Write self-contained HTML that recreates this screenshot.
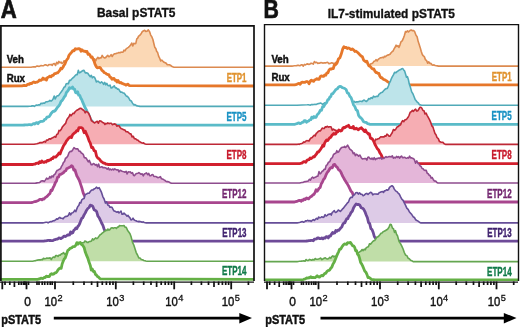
<!DOCTYPE html>
<html><head><meta charset="utf-8"><style>
html,body{margin:0;padding:0;background:#fff;}
svg{display:block;will-change:transform;}
text{font-family:"Liberation Sans",sans-serif;}
.lab{font-weight:bold;font-size:12.4px;stroke-width:0.4px;}
.tk{font-size:12px;fill:#111;stroke:#111;stroke-width:0.4px;}
.sup{font-size:9.2px;fill:#111;stroke:#111;stroke-width:0.3px;}
.ax{font-size:13.6px;font-weight:bold;fill:#111;stroke:#111;stroke-width:0.5px;}
.ttl{font-size:13.6px;font-weight:bold;fill:#111;stroke:#111;stroke-width:0.35px;}
.big{font-size:26px;font-weight:bold;fill:#111;stroke:#111;stroke-width:0.7px;}
.vr{font-size:11px;font-weight:bold;fill:#111;stroke:#111;stroke-width:0.45px;}
</style></head><body>
<svg width="520" height="327" viewBox="0 0 520 327">
<rect width="520" height="327" fill="#fff"/>
<svg x="0" y="0" width="254" height="281" overflow="hidden"><path d="M0.0,67.3 L0.0,67.3 L30.0,67.3 L31.1,67.3 L32.2,67.3 L33.3,67.3 L34.4,67.3 L35.6,67.3 L36.7,67.3 L37.8,67.3 L38.9,67.3 L40.0,67.3 L41.1,67.3 L42.2,67.3 L43.3,67.3 L44.4,67.3 L45.6,67.3 L46.7,67.3 L47.8,67.3 L48.9,67.3 L50.0,67.3 L51.1,67.3 L52.2,67.3 L53.3,67.3 L54.4,67.3 L55.6,67.3 L56.7,67.3 L57.8,67.3 L58.9,67.3 L60.0,67.3 L61.0,67.3 L62.0,67.3 L63.0,67.3 L64.0,67.3 L65.0,67.3 L66.1,67.3 L67.1,67.3 L68.2,67.3 L69.3,67.3 L70.4,67.3 L71.4,67.3 L72.5,67.3 L73.6,67.3 L74.6,67.3 L75.7,67.3 L76.8,67.3 L77.9,67.3 L78.9,67.3 L80.0,67.3 L81.1,67.3 L82.3,67.3 L83.4,67.3 L84.5,67.3 L85.7,67.3 L86.8,67.3 L88.0,67.3 L89.1,67.3 L90.2,67.3 L91.4,67.3 L92.5,59.1 L93.6,60.0 L94.6,58.9 L95.7,60.8 L96.8,58.7 L97.9,57.3 L98.9,58.7 L100.0,57.8 L101.1,58.0 L102.2,55.4 L103.3,57.1 L104.4,57.9 L105.6,57.6 L106.7,56.4 L107.8,55.4 L108.9,56.7 L110.0,56.1 L111.1,54.7 L112.2,56.5 L113.3,54.7 L114.4,53.8 L115.6,53.8 L116.7,53.2 L117.8,53.0 L118.9,52.5 L120.0,52.8 L121.0,52.1 L122.0,52.2 L123.0,52.1 L124.0,50.2 L125.0,50.8 L126.1,48.8 L127.2,48.1 L128.4,47.4 L129.5,46.3 L130.6,45.1 L131.7,43.0 L132.8,45.9 L133.8,43.3 L134.9,43.7 L135.8,43.4 L136.8,38.8 L137.7,38.1 L138.6,36.1 L139.6,35.5 L140.5,34.6 L141.4,33.2 L142.4,31.5 L143.3,31.0 L144.7,30.3 L145.8,31.4 L147.0,31.2 L148.3,29.9 L149.6,31.7 L150.7,35.1 L151.8,36.7 L152.9,39.5 L153.9,43.7 L154.8,47.4 L155.8,48.5 L156.7,51.5 L157.6,52.4 L158.6,56.1 L159.5,57.8 L160.7,60.9 L161.8,60.1 L163.0,61.3 L164.1,62.3 L165.2,62.7 L166.2,63.3 L167.3,64.8 L168.4,64.7 L169.4,64.8 L170.4,65.2 L171.5,66.2 L172.8,66.8 L174.0,67.3 L254.0,67.3 L254.0,67.3 Z" fill="#FBD8B5"/>
<path d="M0.0,67.3 L30.0,67.3 L31.1,67.2 L32.2,67.0 L33.3,66.9 L34.4,66.8 L35.6,66.9 L36.7,66.0 L37.8,66.1 L38.9,66.4 L40.0,66.1 L41.1,65.5 L42.2,65.8 L43.3,65.8 L44.4,65.1 L45.6,64.7 L46.7,65.3 L47.8,65.7 L48.9,64.5 L50.0,64.8 L51.1,64.4 L52.2,65.5 L53.3,63.7 L54.4,63.5 L55.6,65.5 L56.7,62.3 L57.8,63.9 L58.9,61.4 L60.0,62.8 L61.0,62.0 L62.0,63.5 L63.0,63.0 L64.0,60.8 L65.0,61.3 L66.1,60.8 L67.1,61.2 L68.2,60.0 L69.3,61.5 L70.4,62.9 L71.4,59.7 L72.5,59.1 L73.6,61.0 L74.6,60.6 L75.7,62.2 L76.8,60.4 L77.9,60.4 L78.9,60.2 L80.0,60.3 L81.1,59.3 L82.3,60.7 L83.4,58.8 L84.5,60.9 L85.7,59.8 L86.8,60.1 L88.0,59.0 L89.1,58.6 L90.2,60.9 L91.4,59.6 L92.5,59.1 L93.6,60.0 L94.6,58.9 L95.7,60.8 L96.8,58.7 L97.9,57.3 L98.9,58.7 L100.0,57.8 L101.1,58.0 L102.2,55.4 L103.3,57.1 L104.4,57.9 L105.6,57.6 L106.7,56.4 L107.8,55.4 L108.9,56.7 L110.0,56.1 L111.1,54.7 L112.2,56.5 L113.3,54.7 L114.4,53.8 L115.6,53.8 L116.7,53.2 L117.8,53.0 L118.9,52.5 L120.0,52.8 L121.0,52.1 L122.0,52.2 L123.0,52.1 L124.0,50.2 L125.0,50.8 L126.1,48.8 L127.2,48.1 L128.4,47.4 L129.5,46.3 L130.6,45.1 L131.7,43.0 L132.8,45.9 L133.8,43.3 L134.9,43.7 L135.8,43.4 L136.8,38.8 L137.7,38.1 L138.6,36.1 L139.6,35.5 L140.5,34.6 L141.4,33.2 L142.4,31.5 L143.3,31.0 L144.7,30.3 L145.8,31.4 L147.0,31.2 L148.3,29.9 L149.6,31.7 L150.7,35.1 L151.8,36.7 L152.9,39.5 L153.9,43.7 L154.8,47.4 L155.8,48.5 L156.7,51.5 L157.6,52.4 L158.6,56.1 L159.5,57.8 L160.7,60.9 L161.8,60.1 L163.0,61.3 L164.1,62.3 L165.2,62.7 L166.2,63.3 L167.3,64.8 L168.4,64.7 L169.4,64.8 L170.4,65.2 L171.5,66.2 L172.8,66.8 L174.0,67.3 L254.0,67.3" fill="none" stroke="#DC8A50" stroke-width="1.6" stroke-linejoin="round"/>
<path d="M0.0,86.0 L0.0,86.0 L22.0,85.8 L23.0,85.6 L24.1,85.4 L25.1,85.7 L26.1,85.6 L27.1,84.8 L28.2,84.2 L29.2,84.4 L30.3,83.4 L31.5,83.6 L32.6,82.6 L33.8,81.8 L35.0,82.6 L36.1,82.2 L37.2,82.1 L38.4,81.3 L39.5,80.0 L40.7,80.4 L41.8,79.8 L43.0,78.1 L44.1,79.4 L45.2,78.7 L46.4,80.1 L47.5,77.5 L48.6,77.1 L49.8,76.2 L51.0,76.9 L52.1,75.4 L53.2,75.4 L54.4,73.7 L55.6,73.7 L56.7,72.9 L57.7,72.9 L58.7,71.7 L59.8,70.3 L60.8,68.3 L61.8,68.8 L62.8,67.5 L63.8,65.5 L64.9,64.1 L65.9,61.4 L66.9,59.6 L68.0,58.3 L69.0,55.3 L70.3,53.7 L71.5,52.4 L72.8,50.7 L74.1,50.8 L75.3,48.7 L76.6,49.2 L77.7,48.8 L78.9,48.6 L80.0,49.0 L81.0,51.2 L82.0,49.8 L83.0,50.9 L84.0,51.3 L85.0,51.2 L86.0,51.8 L87.0,51.4 L88.0,54.4 L89.0,54.0 L90.0,55.2 L91.1,57.3 L92.2,57.0 L93.3,59.6 L94.2,61.5 L95.0,64.2 L96.2,66.5 L97.3,67.8 L98.5,67.7 L99.7,67.4 L100.8,68.3 L101.9,70.3 L103.1,71.2 L104.2,72.7 L105.4,73.0 L106.5,74.0 L107.7,74.6 L108.8,74.7 L109.9,77.0 L111.0,77.5 L112.0,79.2 L113.0,78.5 L114.0,78.3 L115.0,80.3 L116.0,80.1 L117.0,82.0 L118.0,80.4 L119.0,82.2 L120.0,82.8 L121.0,82.5 L122.0,83.4 L123.0,83.7 L124.0,84.2 L125.0,84.5 L126.0,85.2 L127.0,84.5 L128.0,84.2 L129.0,85.5 L130.0,85.7 L254.0,86.0 L254.0,86.0 Z" fill="#fff"/>
<path d="M0.0,86.0 L22.0,85.8 L23.0,85.6 L24.1,85.4 L25.1,85.7 L26.1,85.6 L27.1,84.8 L28.2,84.2 L29.2,84.4 L30.3,83.4 L31.5,83.6 L32.6,82.6 L33.8,81.8 L35.0,82.6 L36.1,82.2 L37.2,82.1 L38.4,81.3 L39.5,80.0 L40.7,80.4 L41.8,79.8 L43.0,78.1 L44.1,79.4 L45.2,78.7 L46.4,80.1 L47.5,77.5 L48.6,77.1 L49.8,76.2 L51.0,76.9 L52.1,75.4 L53.2,75.4 L54.4,73.7 L55.6,73.7 L56.7,72.9 L57.7,72.9 L58.7,71.7 L59.8,70.3 L60.8,68.3 L61.8,68.8 L62.8,67.5 L63.8,65.5 L64.9,64.1 L65.9,61.4 L66.9,59.6 L68.0,58.3 L69.0,55.3 L70.3,53.7 L71.5,52.4 L72.8,50.7 L74.1,50.8 L75.3,48.7 L76.6,49.2 L77.7,48.8 L78.9,48.6 L80.0,49.0 L81.0,51.2 L82.0,49.8 L83.0,50.9 L84.0,51.3 L85.0,51.2 L86.0,51.8 L87.0,51.4 L88.0,54.4 L89.0,54.0 L90.0,55.2 L91.1,57.3 L92.2,57.0 L93.3,59.6 L94.2,61.5 L95.0,64.2 L96.2,66.5 L97.3,67.8 L98.5,67.7 L99.7,67.4 L100.8,68.3 L101.9,70.3 L103.1,71.2 L104.2,72.7 L105.4,73.0 L106.5,74.0 L107.7,74.6 L108.8,74.7 L109.9,77.0 L111.0,77.5 L112.0,79.2 L113.0,78.5 L114.0,78.3 L115.0,80.3 L116.0,80.1 L117.0,82.0 L118.0,80.4 L119.0,82.2 L120.0,82.8 L121.0,82.5 L122.0,83.4 L123.0,83.7 L124.0,84.2 L125.0,84.5 L126.0,85.2 L127.0,84.5 L128.0,84.2 L129.0,85.5 L130.0,85.7 L254.0,86.0" fill="none" stroke="#E6772A" stroke-width="2.8" stroke-linejoin="round"/>
<path d="M0.0,106.4 L0.0,106.4 L28.0,106.4 L29.0,106.3 L30.1,106.2 L31.1,106.1 L32.2,105.9 L33.2,105.8 L34.3,106.4 L35.3,105.6 L36.4,105.0 L37.6,105.2 L38.8,104.8 L39.9,104.9 L41.0,103.3 L42.2,103.6 L43.4,103.1 L44.5,103.3 L45.6,102.1 L46.7,101.8 L47.8,101.6 L48.8,101.3 L49.9,100.4 L51.0,101.1 L52.1,100.3 L53.1,99.1 L54.2,96.0 L55.2,99.0 L56.2,96.9 L57.3,95.8 L58.3,95.7 L59.4,94.4 L60.5,92.9 L61.7,91.2 L62.8,89.6 L64.0,87.3 L65.1,86.7 L66.2,83.7 L67.4,83.5 L68.4,83.7 L69.5,80.3 L70.5,80.4 L71.7,79.0 L72.9,77.9 L74.1,76.8 L75.3,75.4 L76.3,74.6 L77.3,74.6 L78.3,70.4 L79.3,72.8 L80.3,72.4 L81.5,71.5 L82.8,70.6 L84.0,70.4 L85.3,72.9 L86.6,72.9 L87.8,73.2 L89.1,75.2 L90.3,76.7 L91.3,75.3 L92.3,77.8 L93.4,76.7 L94.4,77.2 L95.4,79.2 L96.4,81.9 L97.4,81.2 L98.4,81.4 L99.4,82.3 L100.4,83.0 L101.5,81.9 L102.5,82.6 L103.6,84.3 L104.7,82.4 L105.8,84.8 L106.8,83.4 L107.9,85.4 L109.0,85.8 L110.0,85.0 L111.1,88.0 L112.2,87.7 L113.3,86.7 L114.3,85.8 L115.4,88.0 L116.5,87.9 L117.6,89.3 L118.7,89.1 L119.7,91.0 L120.8,92.3 L121.9,92.1 L123.0,93.0 L124.0,93.1 L125.0,94.3 L126.3,96.1 L127.5,96.4 L128.8,98.0 L130.0,100.3 L131.3,101.0 L132.5,103.1 L133.8,104.9 L135.0,104.6 L136.3,105.6 L137.5,105.9 L138.8,106.1 L140.0,106.4 L254.0,106.4 L254.0,106.4 Z" fill="#BDE4EA"/>
<path d="M0.0,106.4 L28.0,106.4 L29.0,106.3 L30.1,106.2 L31.1,106.1 L32.2,105.9 L33.2,105.8 L34.3,106.4 L35.3,105.6 L36.4,105.0 L37.6,105.2 L38.8,104.8 L39.9,104.9 L41.0,103.3 L42.2,103.6 L43.4,103.1 L44.5,103.3 L45.6,102.1 L46.7,101.8 L47.8,101.6 L48.8,101.3 L49.9,100.4 L51.0,101.1 L52.1,100.3 L53.1,99.1 L54.2,96.0 L55.2,99.0 L56.2,96.9 L57.3,95.8 L58.3,95.7 L59.4,94.4 L60.5,92.9 L61.7,91.2 L62.8,89.6 L64.0,87.3 L65.1,86.7 L66.2,83.7 L67.4,83.5 L68.4,83.7 L69.5,80.3 L70.5,80.4 L71.7,79.0 L72.9,77.9 L74.1,76.8 L75.3,75.4 L76.3,74.6 L77.3,74.6 L78.3,70.4 L79.3,72.8 L80.3,72.4 L81.5,71.5 L82.8,70.6 L84.0,70.4 L85.3,72.9 L86.6,72.9 L87.8,73.2 L89.1,75.2 L90.3,76.7 L91.3,75.3 L92.3,77.8 L93.4,76.7 L94.4,77.2 L95.4,79.2 L96.4,81.9 L97.4,81.2 L98.4,81.4 L99.4,82.3 L100.4,83.0 L101.5,81.9 L102.5,82.6 L103.6,84.3 L104.7,82.4 L105.8,84.8 L106.8,83.4 L107.9,85.4 L109.0,85.8 L110.0,85.0 L111.1,88.0 L112.2,87.7 L113.3,86.7 L114.3,85.8 L115.4,88.0 L116.5,87.9 L117.6,89.3 L118.7,89.1 L119.7,91.0 L120.8,92.3 L121.9,92.1 L123.0,93.0 L124.0,93.1 L125.0,94.3 L126.3,96.1 L127.5,96.4 L128.8,98.0 L130.0,100.3 L131.3,101.0 L132.5,103.1 L133.8,104.9 L135.0,104.6 L136.3,105.6 L137.5,105.9 L138.8,106.1 L140.0,106.4 L254.0,106.4" fill="none" stroke="#50AAB8" stroke-width="1.6" stroke-linejoin="round"/>
<path d="M0.0,125.2 L0.0,125.2 L22.0,125.2 L23.1,125.1 L24.3,125.0 L25.4,124.9 L26.5,124.8 L27.7,124.8 L28.8,124.7 L29.9,124.6 L31.1,124.9 L32.2,124.4 L33.4,123.6 L34.5,124.1 L35.6,123.1 L36.8,122.7 L38.0,123.7 L39.1,122.2 L40.2,121.7 L41.4,121.3 L42.5,121.3 L43.6,121.0 L44.7,119.3 L45.8,119.2 L46.9,117.2 L48.0,117.0 L49.1,116.7 L50.1,115.3 L51.1,113.5 L52.2,112.3 L53.2,111.2 L54.2,111.4 L55.2,110.6 L56.4,108.9 L57.5,107.3 L58.6,106.1 L59.8,104.5 L61.0,101.4 L62.1,100.6 L63.2,98.9 L64.4,96.8 L65.4,95.7 L66.4,92.5 L67.4,91.5 L68.4,90.1 L69.5,87.7 L70.5,88.4 L71.5,88.2 L72.6,87.0 L73.6,89.2 L74.6,89.2 L75.6,92.7 L76.6,93.0 L77.6,91.8 L78.7,95.2 L79.7,95.3 L80.7,98.0 L81.8,99.8 L82.8,102.4 L84.1,105.4 L85.3,108.1 L86.6,110.2 L87.5,113.0 L88.5,113.9 L89.5,116.5 L90.5,119.5 L91.8,120.7 L93.0,122.9 L94.0,123.0 L95.0,123.3 L96.0,124.2 L97.0,124.7 L102.0,125.2 L254.0,125.2 L254.0,125.2 Z" fill="#fff"/>
<path d="M0.0,125.2 L22.0,125.2 L23.1,125.1 L24.3,125.0 L25.4,124.9 L26.5,124.8 L27.7,124.8 L28.8,124.7 L29.9,124.6 L31.1,124.9 L32.2,124.4 L33.4,123.6 L34.5,124.1 L35.6,123.1 L36.8,122.7 L38.0,123.7 L39.1,122.2 L40.2,121.7 L41.4,121.3 L42.5,121.3 L43.6,121.0 L44.7,119.3 L45.8,119.2 L46.9,117.2 L48.0,117.0 L49.1,116.7 L50.1,115.3 L51.1,113.5 L52.2,112.3 L53.2,111.2 L54.2,111.4 L55.2,110.6 L56.4,108.9 L57.5,107.3 L58.6,106.1 L59.8,104.5 L61.0,101.4 L62.1,100.6 L63.2,98.9 L64.4,96.8 L65.4,95.7 L66.4,92.5 L67.4,91.5 L68.4,90.1 L69.5,87.7 L70.5,88.4 L71.5,88.2 L72.6,87.0 L73.6,89.2 L74.6,89.2 L75.6,92.7 L76.6,93.0 L77.6,91.8 L78.7,95.2 L79.7,95.3 L80.7,98.0 L81.8,99.8 L82.8,102.4 L84.1,105.4 L85.3,108.1 L86.6,110.2 L87.5,113.0 L88.5,113.9 L89.5,116.5 L90.5,119.5 L91.8,120.7 L93.0,122.9 L94.0,123.0 L95.0,123.3 L96.0,124.2 L97.0,124.7 L102.0,125.2 L254.0,125.2" fill="none" stroke="#5ABBC8" stroke-width="2.8" stroke-linejoin="round"/>
<path d="M0.0,144.2 L0.0,144.2 L34.0,144.2 L36.8,143.7 L37.9,143.4 L39.0,143.2 L40.1,142.5 L41.2,142.6 L42.3,142.6 L43.4,142.0 L44.5,141.4 L45.5,142.1 L46.5,140.0 L47.5,140.3 L48.6,139.3 L49.6,138.8 L50.6,139.1 L51.6,138.2 L52.6,137.8 L53.7,137.2 L54.7,136.5 L55.7,137.2 L56.7,134.5 L57.9,133.9 L59.0,130.4 L60.1,130.7 L61.3,129.2 L62.3,127.1 L63.4,125.7 L64.4,124.6 L65.6,123.4 L66.7,120.0 L67.8,118.2 L69.0,116.8 L70.0,114.4 L71.0,115.8 L72.0,114.6 L73.0,113.2 L74.0,113.6 L75.3,111.5 L76.5,110.5 L77.8,109.8 L79.0,109.0 L80.3,108.2 L81.5,108.6 L82.8,109.8 L84.0,110.5 L85.2,112.9 L86.3,111.3 L87.5,112.1 L88.7,113.6 L90.2,116.8 L91.4,120.8 L92.3,121.2 L93.3,122.1 L94.7,123.0 L96.0,121.9 L97.2,121.3 L98.4,123.2 L99.5,120.7 L100.7,121.0 L101.9,121.9 L102.9,122.7 L103.9,122.9 L104.9,124.5 L105.9,123.4 L106.8,123.8 L107.8,122.9 L109.0,123.7 L110.1,123.3 L111.3,123.2 L112.5,124.7 L113.6,124.1 L114.8,123.9 L115.8,124.3 L116.8,126.2 L117.8,125.8 L119.0,125.8 L120.2,127.5 L121.3,128.8 L122.5,129.0 L123.7,129.8 L124.9,130.1 L126.1,131.7 L127.3,131.7 L128.5,132.5 L129.7,133.8 L130.9,133.9 L132.1,136.9 L133.3,136.3 L134.5,138.8 L135.7,138.8 L136.9,139.9 L138.1,140.2 L139.2,141.6 L140.4,142.1 L141.6,142.7 L142.6,143.1 L143.6,142.9 L144.6,143.8 L145.6,144.1 L148.0,144.2 L254.0,144.2 L254.0,144.2 Z" fill="#F6ADB3"/>
<path d="M0.0,144.2 L34.0,144.2 L36.8,143.7 L37.9,143.4 L39.0,143.2 L40.1,142.5 L41.2,142.6 L42.3,142.6 L43.4,142.0 L44.5,141.4 L45.5,142.1 L46.5,140.0 L47.5,140.3 L48.6,139.3 L49.6,138.8 L50.6,139.1 L51.6,138.2 L52.6,137.8 L53.7,137.2 L54.7,136.5 L55.7,137.2 L56.7,134.5 L57.9,133.9 L59.0,130.4 L60.1,130.7 L61.3,129.2 L62.3,127.1 L63.4,125.7 L64.4,124.6 L65.6,123.4 L66.7,120.0 L67.8,118.2 L69.0,116.8 L70.0,114.4 L71.0,115.8 L72.0,114.6 L73.0,113.2 L74.0,113.6 L75.3,111.5 L76.5,110.5 L77.8,109.8 L79.0,109.0 L80.3,108.2 L81.5,108.6 L82.8,109.8 L84.0,110.5 L85.2,112.9 L86.3,111.3 L87.5,112.1 L88.7,113.6 L90.2,116.8 L91.4,120.8 L92.3,121.2 L93.3,122.1 L94.7,123.0 L96.0,121.9 L97.2,121.3 L98.4,123.2 L99.5,120.7 L100.7,121.0 L101.9,121.9 L102.9,122.7 L103.9,122.9 L104.9,124.5 L105.9,123.4 L106.8,123.8 L107.8,122.9 L109.0,123.7 L110.1,123.3 L111.3,123.2 L112.5,124.7 L113.6,124.1 L114.8,123.9 L115.8,124.3 L116.8,126.2 L117.8,125.8 L119.0,125.8 L120.2,127.5 L121.3,128.8 L122.5,129.0 L123.7,129.8 L124.9,130.1 L126.1,131.7 L127.3,131.7 L128.5,132.5 L129.7,133.8 L130.9,133.9 L132.1,136.9 L133.3,136.3 L134.5,138.8 L135.7,138.8 L136.9,139.9 L138.1,140.2 L139.2,141.6 L140.4,142.1 L141.6,142.7 L142.6,143.1 L143.6,142.9 L144.6,143.8 L145.6,144.1 L148.0,144.2 L254.0,144.2" fill="none" stroke="#BE2836" stroke-width="1.6" stroke-linejoin="round"/>
<path d="M0.0,164.5 L0.0,164.5 L33.0,164.5 L34.1,164.2 L35.2,164.0 L36.3,163.3 L37.4,163.0 L38.5,163.5 L39.6,161.7 L40.7,162.6 L41.8,161.0 L42.9,162.1 L44.0,162.5 L45.1,161.6 L46.2,162.1 L47.3,160.4 L48.4,160.8 L49.5,159.9 L50.6,159.8 L51.6,158.5 L52.6,158.7 L53.7,156.8 L54.7,157.0 L55.7,157.2 L56.7,156.0 L57.9,154.7 L59.0,152.9 L60.1,153.9 L61.3,150.6 L62.3,148.6 L63.4,146.0 L64.4,144.5 L65.4,143.1 L66.4,141.0 L67.4,139.9 L68.4,138.5 L69.5,137.5 L70.5,136.8 L71.5,137.6 L72.6,134.8 L73.6,133.8 L74.6,132.9 L75.6,132.3 L76.6,130.7 L77.8,130.9 L79.0,127.6 L80.3,127.7 L81.5,127.7 L82.8,128.6 L84.1,132.7 L85.3,131.2 L86.6,134.4 L87.8,137.0 L89.1,140.9 L90.3,143.2 L91.6,147.7 L92.8,147.4 L94.1,150.7 L95.4,151.1 L96.6,156.3 L97.9,158.2 L98.9,158.6 L99.9,159.7 L100.9,161.3 L101.9,161.9 L102.9,162.7 L103.9,163.2 L104.9,163.2 L105.9,164.2 L106.9,164.1 L107.9,164.5 L254.0,164.5 L254.0,164.5 Z" fill="#fff"/>
<path d="M0.0,164.5 L33.0,164.5 L34.1,164.2 L35.2,164.0 L36.3,163.3 L37.4,163.0 L38.5,163.5 L39.6,161.7 L40.7,162.6 L41.8,161.0 L42.9,162.1 L44.0,162.5 L45.1,161.6 L46.2,162.1 L47.3,160.4 L48.4,160.8 L49.5,159.9 L50.6,159.8 L51.6,158.5 L52.6,158.7 L53.7,156.8 L54.7,157.0 L55.7,157.2 L56.7,156.0 L57.9,154.7 L59.0,152.9 L60.1,153.9 L61.3,150.6 L62.3,148.6 L63.4,146.0 L64.4,144.5 L65.4,143.1 L66.4,141.0 L67.4,139.9 L68.4,138.5 L69.5,137.5 L70.5,136.8 L71.5,137.6 L72.6,134.8 L73.6,133.8 L74.6,132.9 L75.6,132.3 L76.6,130.7 L77.8,130.9 L79.0,127.6 L80.3,127.7 L81.5,127.7 L82.8,128.6 L84.1,132.7 L85.3,131.2 L86.6,134.4 L87.8,137.0 L89.1,140.9 L90.3,143.2 L91.6,147.7 L92.8,147.4 L94.1,150.7 L95.4,151.1 L96.6,156.3 L97.9,158.2 L98.9,158.6 L99.9,159.7 L100.9,161.3 L101.9,161.9 L102.9,162.7 L103.9,163.2 L104.9,163.2 L105.9,164.2 L106.9,164.1 L107.9,164.5 L254.0,164.5" fill="none" stroke="#D2202E" stroke-width="2.8" stroke-linejoin="round"/>
<path d="M0.0,183.3 L0.0,183.3 L35.0,183.3 L36.0,183.1 L37.0,182.9 L38.0,182.7 L39.0,182.7 L40.0,182.3 L41.1,181.0 L42.2,180.9 L43.3,180.9 L44.4,181.4 L45.5,179.9 L46.6,178.2 L47.7,179.0 L48.8,178.6 L49.8,176.5 L50.9,177.9 L52.0,175.9 L53.1,177.0 L54.1,174.6 L55.2,174.0 L56.2,171.8 L57.3,170.2 L58.4,169.9 L59.4,169.3 L60.5,168.7 L61.5,166.4 L62.5,164.9 L63.5,162.3 L64.5,161.6 L65.5,158.2 L66.5,157.7 L67.8,156.0 L69.0,152.8 L70.3,151.4 L71.5,151.5 L72.8,149.7 L74.0,147.6 L75.2,148.6 L76.5,148.9 L77.8,148.8 L79.0,151.1 L80.3,151.4 L81.3,153.0 L82.3,153.4 L83.3,154.6 L84.3,157.6 L85.3,157.7 L86.3,158.3 L87.3,160.1 L88.3,161.9 L89.3,160.4 L90.3,162.7 L91.3,164.8 L92.3,164.6 L93.4,163.6 L94.4,163.9 L95.4,165.2 L96.5,164.5 L97.5,166.7 L98.6,164.0 L99.7,167.4 L100.8,167.1 L101.8,166.7 L102.9,167.7 L104.0,167.4 L105.0,167.7 L106.1,168.1 L107.2,169.2 L108.3,167.9 L109.3,169.8 L110.4,169.0 L111.5,170.0 L112.6,169.0 L113.7,169.8 L114.7,168.9 L115.8,169.5 L116.9,170.0 L118.0,169.7 L119.0,171.8 L120.0,170.4 L121.0,170.6 L122.0,171.2 L123.0,171.5 L124.0,171.7 L125.0,172.2 L126.1,171.3 L127.1,174.0 L128.2,171.9 L129.3,172.0 L130.4,171.9 L131.4,173.2 L132.5,172.7 L133.6,175.4 L134.6,175.6 L135.7,173.9 L136.8,173.5 L137.9,173.3 L138.9,172.5 L140.0,173.5 L141.1,174.3 L142.2,173.8 L143.3,175.9 L144.3,173.9 L145.4,173.5 L146.5,172.9 L147.6,174.7 L148.7,173.4 L149.7,175.8 L150.8,175.8 L151.8,174.7 L152.9,174.6 L153.9,176.5 L155.0,176.5 L156.1,176.5 L157.2,177.4 L158.3,177.6 L159.3,177.2 L160.4,176.7 L161.5,178.8 L162.6,179.0 L163.6,179.6 L164.6,180.1 L165.7,181.1 L166.7,181.6 L167.7,181.5 L168.9,181.9 L170.2,182.7 L171.4,183.3 L254.0,183.3 L254.0,183.3 Z" fill="#E4B6D9"/>
<path d="M0.0,183.3 L35.0,183.3 L36.0,183.1 L37.0,182.9 L38.0,182.7 L39.0,182.7 L40.0,182.3 L41.1,181.0 L42.2,180.9 L43.3,180.9 L44.4,181.4 L45.5,179.9 L46.6,178.2 L47.7,179.0 L48.8,178.6 L49.8,176.5 L50.9,177.9 L52.0,175.9 L53.1,177.0 L54.1,174.6 L55.2,174.0 L56.2,171.8 L57.3,170.2 L58.4,169.9 L59.4,169.3 L60.5,168.7 L61.5,166.4 L62.5,164.9 L63.5,162.3 L64.5,161.6 L65.5,158.2 L66.5,157.7 L67.8,156.0 L69.0,152.8 L70.3,151.4 L71.5,151.5 L72.8,149.7 L74.0,147.6 L75.2,148.6 L76.5,148.9 L77.8,148.8 L79.0,151.1 L80.3,151.4 L81.3,153.0 L82.3,153.4 L83.3,154.6 L84.3,157.6 L85.3,157.7 L86.3,158.3 L87.3,160.1 L88.3,161.9 L89.3,160.4 L90.3,162.7 L91.3,164.8 L92.3,164.6 L93.4,163.6 L94.4,163.9 L95.4,165.2 L96.5,164.5 L97.5,166.7 L98.6,164.0 L99.7,167.4 L100.8,167.1 L101.8,166.7 L102.9,167.7 L104.0,167.4 L105.0,167.7 L106.1,168.1 L107.2,169.2 L108.3,167.9 L109.3,169.8 L110.4,169.0 L111.5,170.0 L112.6,169.0 L113.7,169.8 L114.7,168.9 L115.8,169.5 L116.9,170.0 L118.0,169.7 L119.0,171.8 L120.0,170.4 L121.0,170.6 L122.0,171.2 L123.0,171.5 L124.0,171.7 L125.0,172.2 L126.1,171.3 L127.1,174.0 L128.2,171.9 L129.3,172.0 L130.4,171.9 L131.4,173.2 L132.5,172.7 L133.6,175.4 L134.6,175.6 L135.7,173.9 L136.8,173.5 L137.9,173.3 L138.9,172.5 L140.0,173.5 L141.1,174.3 L142.2,173.8 L143.3,175.9 L144.3,173.9 L145.4,173.5 L146.5,172.9 L147.6,174.7 L148.7,173.4 L149.7,175.8 L150.8,175.8 L151.8,174.7 L152.9,174.6 L153.9,176.5 L155.0,176.5 L156.1,176.5 L157.2,177.4 L158.3,177.6 L159.3,177.2 L160.4,176.7 L161.5,178.8 L162.6,179.0 L163.6,179.6 L164.6,180.1 L165.7,181.1 L166.7,181.6 L167.7,181.5 L168.9,181.9 L170.2,182.7 L171.4,183.3 L254.0,183.3" fill="none" stroke="#8E4C8E" stroke-width="1.6" stroke-linejoin="round"/>
<path d="M0.0,202.6 L0.0,202.6 L31.4,202.6 L32.4,202.3 L33.5,202.0 L34.5,201.7 L35.5,201.7 L36.6,201.1 L37.6,200.9 L38.7,200.2 L39.8,199.4 L40.9,199.3 L41.9,199.9 L43.0,198.9 L44.1,199.0 L45.2,197.6 L46.4,196.8 L47.6,195.8 L48.8,194.6 L50.0,193.4 L51.0,190.1 L52.0,190.5 L53.0,187.9 L54.2,185.6 L55.5,182.4 L56.5,181.1 L57.5,177.4 L58.5,177.2 L59.5,174.7 L60.6,174.4 L61.7,173.8 L62.7,173.2 L63.7,172.5 L64.7,171.2 L65.8,170.7 L66.8,168.6 L67.8,168.2 L69.0,167.6 L70.3,166.9 L71.5,165.7 L72.7,166.6 L73.8,170.1 L75.0,170.0 L75.9,173.0 L76.9,176.1 L77.8,177.5 L78.9,179.6 L79.9,182.1 L81.0,185.4 L82.1,188.8 L83.2,192.9 L84.3,195.3 L85.5,197.9 L86.6,199.2 L87.8,199.6 L88.9,199.9 L90.0,200.9 L91.1,200.6 L92.2,201.0 L93.3,201.9 L94.4,201.2 L95.6,201.8 L96.7,202.0 L97.8,202.1 L98.9,202.2 L100.0,202.4 L106.0,202.6 L254.0,202.6 L254.0,202.6 Z" fill="#fff"/>
<path d="M0.0,202.6 L31.4,202.6 L32.4,202.3 L33.5,202.0 L34.5,201.7 L35.5,201.7 L36.6,201.1 L37.6,200.9 L38.7,200.2 L39.8,199.4 L40.9,199.3 L41.9,199.9 L43.0,198.9 L44.1,199.0 L45.2,197.6 L46.4,196.8 L47.6,195.8 L48.8,194.6 L50.0,193.4 L51.0,190.1 L52.0,190.5 L53.0,187.9 L54.2,185.6 L55.5,182.4 L56.5,181.1 L57.5,177.4 L58.5,177.2 L59.5,174.7 L60.6,174.4 L61.7,173.8 L62.7,173.2 L63.7,172.5 L64.7,171.2 L65.8,170.7 L66.8,168.6 L67.8,168.2 L69.0,167.6 L70.3,166.9 L71.5,165.7 L72.7,166.6 L73.8,170.1 L75.0,170.0 L75.9,173.0 L76.9,176.1 L77.8,177.5 L78.9,179.6 L79.9,182.1 L81.0,185.4 L82.1,188.8 L83.2,192.9 L84.3,195.3 L85.5,197.9 L86.6,199.2 L87.8,199.6 L88.9,199.9 L90.0,200.9 L91.1,200.6 L92.2,201.0 L93.3,201.9 L94.4,201.2 L95.6,201.8 L96.7,202.0 L97.8,202.1 L98.9,202.2 L100.0,202.4 L106.0,202.6 L254.0,202.6" fill="none" stroke="#A8468E" stroke-width="2.8" stroke-linejoin="round"/>
<path d="M0.0,222.9 L0.0,222.9 L42.7,222.9 L43.8,222.7 L44.8,222.5 L45.9,222.3 L47.0,222.3 L48.1,222.9 L49.1,222.2 L50.2,221.6 L51.3,221.8 L52.3,221.3 L53.4,220.8 L54.5,220.6 L55.6,219.8 L56.6,218.9 L57.7,219.1 L58.8,218.0 L59.8,217.4 L60.9,218.3 L62.0,218.3 L63.1,218.9 L64.1,217.5 L65.2,216.6 L66.3,216.4 L67.4,216.2 L68.5,215.1 L69.5,212.8 L70.6,214.9 L71.7,213.0 L72.8,212.8 L73.8,211.8 L74.8,210.1 L75.8,211.7 L76.8,208.9 L77.8,206.5 L78.8,205.5 L79.8,202.6 L80.8,202.9 L81.8,199.8 L82.8,199.0 L84.1,198.5 L85.3,194.4 L86.6,194.0 L87.8,193.2 L89.1,193.3 L90.3,191.5 L91.6,190.0 L92.8,190.0 L94.1,189.0 L95.3,188.4 L96.6,187.2 L97.8,188.4 L99.1,187.7 L100.3,189.9 L101.6,192.7 L102.8,196.6 L104.1,199.0 L105.4,203.1 L106.6,201.9 L107.9,205.3 L108.9,205.4 L109.9,207.3 L110.9,207.1 L111.9,207.2 L112.9,209.1 L113.9,211.0 L114.9,211.1 L116.0,211.7 L117.0,212.2 L118.0,211.6 L119.0,212.9 L120.0,212.0 L121.0,211.0 L122.0,214.2 L123.0,214.1 L124.0,213.2 L125.0,214.1 L126.0,215.0 L127.0,216.1 L128.0,215.3 L129.0,216.9 L130.0,217.8 L131.0,220.0 L132.0,219.6 L133.0,218.2 L134.0,219.8 L135.0,220.4 L136.0,220.7 L137.0,221.3 L138.0,221.6 L139.0,221.4 L140.0,221.6 L141.1,221.8 L142.1,222.4 L143.2,221.8 L144.2,222.5 L145.2,222.7 L146.3,222.9 L254.0,222.9 L254.0,222.9 Z" fill="#DDCBE7"/>
<path d="M0.0,222.9 L42.7,222.9 L43.8,222.7 L44.8,222.5 L45.9,222.3 L47.0,222.3 L48.1,222.9 L49.1,222.2 L50.2,221.6 L51.3,221.8 L52.3,221.3 L53.4,220.8 L54.5,220.6 L55.6,219.8 L56.6,218.9 L57.7,219.1 L58.8,218.0 L59.8,217.4 L60.9,218.3 L62.0,218.3 L63.1,218.9 L64.1,217.5 L65.2,216.6 L66.3,216.4 L67.4,216.2 L68.5,215.1 L69.5,212.8 L70.6,214.9 L71.7,213.0 L72.8,212.8 L73.8,211.8 L74.8,210.1 L75.8,211.7 L76.8,208.9 L77.8,206.5 L78.8,205.5 L79.8,202.6 L80.8,202.9 L81.8,199.8 L82.8,199.0 L84.1,198.5 L85.3,194.4 L86.6,194.0 L87.8,193.2 L89.1,193.3 L90.3,191.5 L91.6,190.0 L92.8,190.0 L94.1,189.0 L95.3,188.4 L96.6,187.2 L97.8,188.4 L99.1,187.7 L100.3,189.9 L101.6,192.7 L102.8,196.6 L104.1,199.0 L105.4,203.1 L106.6,201.9 L107.9,205.3 L108.9,205.4 L109.9,207.3 L110.9,207.1 L111.9,207.2 L112.9,209.1 L113.9,211.0 L114.9,211.1 L116.0,211.7 L117.0,212.2 L118.0,211.6 L119.0,212.9 L120.0,212.0 L121.0,211.0 L122.0,214.2 L123.0,214.1 L124.0,213.2 L125.0,214.1 L126.0,215.0 L127.0,216.1 L128.0,215.3 L129.0,216.9 L130.0,217.8 L131.0,220.0 L132.0,219.6 L133.0,218.2 L134.0,219.8 L135.0,220.4 L136.0,220.7 L137.0,221.3 L138.0,221.6 L139.0,221.4 L140.0,221.6 L141.1,221.8 L142.1,222.4 L143.2,221.8 L144.2,222.5 L145.2,222.7 L146.3,222.9 L254.0,222.9" fill="none" stroke="#664E98" stroke-width="1.6" stroke-linejoin="round"/>
<path d="M0.0,241.2 L0.0,241.2 L42.7,241.2 L43.8,241.1 L44.8,240.9 L45.9,240.8 L47.0,240.7 L48.1,240.3 L49.1,240.5 L50.2,240.3 L51.3,240.7 L52.3,240.6 L53.4,240.3 L54.5,239.6 L55.6,239.6 L56.6,239.1 L57.7,239.1 L58.8,237.9 L59.8,238.1 L60.9,238.7 L62.0,237.9 L63.1,237.1 L64.1,236.1 L65.2,236.6 L66.3,236.0 L67.4,235.0 L68.5,235.0 L69.5,234.9 L70.6,231.9 L71.7,233.3 L72.8,232.8 L73.8,230.3 L74.8,229.5 L75.8,227.9 L76.8,228.7 L77.8,226.5 L78.8,225.3 L79.8,223.4 L80.8,220.6 L81.8,218.2 L82.8,217.7 L84.1,214.9 L85.3,212.9 L86.6,210.2 L87.8,208.5 L89.1,207.5 L90.3,205.2 L91.5,205.5 L92.8,206.4 L94.1,209.7 L95.3,210.4 L96.6,211.5 L97.9,216.2 L99.1,217.6 L100.4,220.3 L101.6,223.0 L102.9,225.4 L104.1,229.0 L105.1,231.5 L106.0,233.5 L107.0,234.5 L108.0,236.1 L109.2,237.1 L110.3,237.2 L111.5,237.8 L112.7,238.6 L113.8,238.4 L115.0,240.1 L116.1,239.8 L117.2,240.4 L118.3,240.5 L119.4,240.9 L120.6,240.7 L121.7,240.8 L122.8,241.0 L123.9,241.1 L125.0,241.2 L254.0,241.2 L254.0,241.2 Z" fill="#fff"/>
<path d="M0.0,241.2 L42.7,241.2 L43.8,241.1 L44.8,240.9 L45.9,240.8 L47.0,240.7 L48.1,240.3 L49.1,240.5 L50.2,240.3 L51.3,240.7 L52.3,240.6 L53.4,240.3 L54.5,239.6 L55.6,239.6 L56.6,239.1 L57.7,239.1 L58.8,237.9 L59.8,238.1 L60.9,238.7 L62.0,237.9 L63.1,237.1 L64.1,236.1 L65.2,236.6 L66.3,236.0 L67.4,235.0 L68.5,235.0 L69.5,234.9 L70.6,231.9 L71.7,233.3 L72.8,232.8 L73.8,230.3 L74.8,229.5 L75.8,227.9 L76.8,228.7 L77.8,226.5 L78.8,225.3 L79.8,223.4 L80.8,220.6 L81.8,218.2 L82.8,217.7 L84.1,214.9 L85.3,212.9 L86.6,210.2 L87.8,208.5 L89.1,207.5 L90.3,205.2 L91.5,205.5 L92.8,206.4 L94.1,209.7 L95.3,210.4 L96.6,211.5 L97.9,216.2 L99.1,217.6 L100.4,220.3 L101.6,223.0 L102.9,225.4 L104.1,229.0 L105.1,231.5 L106.0,233.5 L107.0,234.5 L108.0,236.1 L109.2,237.1 L110.3,237.2 L111.5,237.8 L112.7,238.6 L113.8,238.4 L115.0,240.1 L116.1,239.8 L117.2,240.4 L118.3,240.5 L119.4,240.9 L120.6,240.7 L121.7,240.8 L122.8,241.0 L123.9,241.1 L125.0,241.2 L254.0,241.2" fill="none" stroke="#6E4B98" stroke-width="2.8" stroke-linejoin="round"/>
<path d="M0.0,261.2 L0.0,261.2 L32.6,261.2 L33.7,261.0 L34.8,260.8 L35.9,260.6 L36.9,260.1 L38.0,260.1 L39.1,259.8 L40.2,259.9 L41.3,259.5 L42.4,259.8 L43.5,258.3 L44.6,258.8 L45.8,258.5 L46.9,258.0 L48.0,258.3 L49.1,258.1 L50.2,257.9 L51.3,259.5 L52.4,257.6 L53.5,257.0 L54.6,257.5 L55.8,255.5 L56.9,255.6 L58.0,256.4 L59.1,255.1 L60.2,255.3 L61.3,253.9 L62.4,253.7 L63.5,252.5 L64.5,254.2 L65.6,253.8 L66.7,254.4 L67.8,251.6 L68.8,250.6 L69.8,249.9 L70.8,249.1 L71.8,249.0 L72.8,247.8 L73.8,247.1 L74.8,247.0 L75.8,245.2 L76.8,243.5 L77.8,244.0 L78.8,245.2 L79.8,243.1 L80.8,244.3 L81.8,242.7 L82.8,242.8 L83.9,242.7 L84.9,241.0 L86.0,241.4 L87.1,242.4 L88.2,242.4 L89.2,241.5 L90.3,241.5 L91.4,241.1 L92.5,238.8 L93.6,239.9 L94.6,238.8 L95.7,237.9 L96.8,238.6 L97.9,237.8 L98.9,236.4 L99.9,235.0 L100.9,234.4 L101.9,233.4 L102.9,232.7 L103.9,231.7 L104.9,231.3 L105.9,230.1 L106.9,230.5 L107.9,229.0 L109.0,230.2 L110.0,229.5 L111.1,228.1 L112.2,227.7 L113.3,228.4 L114.3,227.7 L115.4,227.7 L116.4,228.5 L117.4,227.1 L118.5,226.9 L119.5,225.6 L120.5,225.7 L121.8,225.8 L123.0,225.7 L124.0,225.5 L125.0,227.2 L126.2,227.4 L127.5,230.2 L128.8,232.1 L130.0,233.7 L131.2,237.1 L132.5,242.4 L133.8,245.0 L135.0,248.7 L136.2,252.6 L137.5,255.0 L138.8,257.9 L140.0,258.0 L141.3,259.5 L142.6,259.8 L143.8,260.5 L144.9,260.7 L145.9,261.0 L147.0,261.2 L254.0,261.2 L254.0,261.2 Z" fill="#C0DEA8"/>
<path d="M0.0,261.2 L32.6,261.2 L33.7,261.0 L34.8,260.8 L35.9,260.6 L36.9,260.1 L38.0,260.1 L39.1,259.8 L40.2,259.9 L41.3,259.5 L42.4,259.8 L43.5,258.3 L44.6,258.8 L45.8,258.5 L46.9,258.0 L48.0,258.3 L49.1,258.1 L50.2,257.9 L51.3,259.5 L52.4,257.6 L53.5,257.0 L54.6,257.5 L55.8,255.5 L56.9,255.6 L58.0,256.4 L59.1,255.1 L60.2,255.3 L61.3,253.9 L62.4,253.7 L63.5,252.5 L64.5,254.2 L65.6,253.8 L66.7,254.4 L67.8,251.6 L68.8,250.6 L69.8,249.9 L70.8,249.1 L71.8,249.0 L72.8,247.8 L73.8,247.1 L74.8,247.0 L75.8,245.2 L76.8,243.5 L77.8,244.0 L78.8,245.2 L79.8,243.1 L80.8,244.3 L81.8,242.7 L82.8,242.8 L83.9,242.7 L84.9,241.0 L86.0,241.4 L87.1,242.4 L88.2,242.4 L89.2,241.5 L90.3,241.5 L91.4,241.1 L92.5,238.8 L93.6,239.9 L94.6,238.8 L95.7,237.9 L96.8,238.6 L97.9,237.8 L98.9,236.4 L99.9,235.0 L100.9,234.4 L101.9,233.4 L102.9,232.7 L103.9,231.7 L104.9,231.3 L105.9,230.1 L106.9,230.5 L107.9,229.0 L109.0,230.2 L110.0,229.5 L111.1,228.1 L112.2,227.7 L113.3,228.4 L114.3,227.7 L115.4,227.7 L116.4,228.5 L117.4,227.1 L118.5,226.9 L119.5,225.6 L120.5,225.7 L121.8,225.8 L123.0,225.7 L124.0,225.5 L125.0,227.2 L126.2,227.4 L127.5,230.2 L128.8,232.1 L130.0,233.7 L131.2,237.1 L132.5,242.4 L133.8,245.0 L135.0,248.7 L136.2,252.6 L137.5,255.0 L138.8,257.9 L140.0,258.0 L141.3,259.5 L142.6,259.8 L143.8,260.5 L144.9,260.7 L145.9,261.0 L147.0,261.2 L254.0,261.2" fill="none" stroke="#64A650" stroke-width="1.6" stroke-linejoin="round"/>
<path d="M0.0,279.3 L0.0,279.3 L37.6,279.3 L38.7,279.0 L39.8,278.8 L40.9,278.1 L41.9,278.4 L43.0,278.5 L44.1,277.5 L45.2,277.5 L46.3,276.2 L47.3,276.5 L48.4,276.5 L49.5,276.5 L50.6,274.2 L51.6,273.7 L52.7,274.3 L53.8,274.0 L54.8,272.9 L55.9,272.9 L57.0,271.6 L58.1,269.7 L59.1,268.7 L60.2,268.0 L61.2,268.3 L62.2,263.7 L63.2,261.3 L64.2,259.0 L65.2,258.0 L66.5,254.3 L67.8,250.4 L68.8,249.8 L69.8,248.6 L70.8,248.1 L71.8,247.7 L72.8,246.7 L73.8,246.7 L74.9,246.4 L75.9,245.0 L76.9,242.6 L78.0,244.2 L79.0,242.9 L80.3,242.5 L81.5,244.4 L82.8,245.4 L84.1,247.4 L85.3,252.1 L86.6,255.4 L87.8,258.1 L89.1,262.3 L90.3,265.5 L91.3,270.2 L92.3,269.0 L93.4,271.5 L94.4,271.4 L95.4,274.3 L96.4,275.0 L97.4,276.6 L98.4,276.9 L99.4,278.1 L100.4,278.8 L254.0,279.3 L254.0,279.3 Z" fill="#fff"/>
<path d="M0.0,279.3 L37.6,279.3 L38.7,279.0 L39.8,278.8 L40.9,278.1 L41.9,278.4 L43.0,278.5 L44.1,277.5 L45.2,277.5 L46.3,276.2 L47.3,276.5 L48.4,276.5 L49.5,276.5 L50.6,274.2 L51.6,273.7 L52.7,274.3 L53.8,274.0 L54.8,272.9 L55.9,272.9 L57.0,271.6 L58.1,269.7 L59.1,268.7 L60.2,268.0 L61.2,268.3 L62.2,263.7 L63.2,261.3 L64.2,259.0 L65.2,258.0 L66.5,254.3 L67.8,250.4 L68.8,249.8 L69.8,248.6 L70.8,248.1 L71.8,247.7 L72.8,246.7 L73.8,246.7 L74.9,246.4 L75.9,245.0 L76.9,242.6 L78.0,244.2 L79.0,242.9 L80.3,242.5 L81.5,244.4 L82.8,245.4 L84.1,247.4 L85.3,252.1 L86.6,255.4 L87.8,258.1 L89.1,262.3 L90.3,265.5 L91.3,270.2 L92.3,269.0 L93.4,271.5 L94.4,271.4 L95.4,274.3 L96.4,275.0 L97.4,276.6 L98.4,276.9 L99.4,278.1 L100.4,278.8 L254.0,279.3" fill="none" stroke="#64B045" stroke-width="2.8" stroke-linejoin="round"/></svg>
<svg x="264" y="0" width="254" height="281" overflow="hidden"><g transform="translate(-264,0)"><path d="M264.0,66.1 L264.0,66.1 L292.0,66.1 L293.1,66.1 L294.3,66.1 L295.4,66.1 L296.5,66.1 L297.7,66.1 L298.8,66.1 L299.9,66.1 L301.1,66.1 L302.2,66.1 L303.3,66.1 L304.4,66.1 L305.5,66.1 L306.6,66.1 L307.8,66.1 L308.9,66.1 L310.0,66.1 L311.1,66.1 L312.2,66.1 L313.3,66.1 L314.4,66.1 L315.5,66.1 L316.6,66.1 L317.8,66.1 L318.9,66.1 L320.0,66.1 L321.1,66.1 L322.2,66.1 L323.3,66.1 L324.4,66.1 L325.6,66.1 L326.7,66.1 L327.8,66.1 L328.9,66.1 L330.1,66.1 L331.2,66.1 L332.3,66.1 L333.4,66.1 L334.5,66.1 L335.6,66.1 L336.7,66.1 L337.8,66.1 L338.9,66.1 L340.0,66.1 L341.1,66.1 L342.3,66.1 L343.4,66.1 L344.5,66.1 L345.6,66.1 L346.7,66.1 L347.8,66.1 L348.9,66.1 L350.0,66.1 L351.1,66.1 L352.2,66.1 L353.3,66.1 L354.4,66.1 L355.5,66.1 L356.6,66.1 L357.7,66.1 L358.8,66.1 L359.9,66.1 L361.1,66.1 L362.2,66.1 L363.3,66.1 L364.4,66.1 L365.5,66.1 L366.6,66.1 L367.7,66.1 L368.8,66.1 L369.9,64.9 L370.9,63.8 L371.9,63.5 L372.9,62.9 L373.9,61.3 L374.9,61.1 L376.0,59.6 L377.1,61.0 L378.2,59.4 L379.2,58.6 L380.3,57.8 L381.4,57.7 L382.5,57.3 L383.5,57.7 L384.5,56.3 L385.5,56.8 L386.5,55.7 L387.5,55.1 L388.8,54.9 L390.0,54.3 L391.1,52.8 L392.1,51.7 L393.1,51.0 L394.2,48.6 L395.1,47.3 L396.1,45.2 L397.0,46.5 L398.0,45.7 L398.9,47.5 L399.9,45.1 L401.1,41.6 L402.2,40.9 L403.4,38.1 L404.4,35.5 L405.5,31.5 L406.5,32.1 L407.5,30.8 L408.5,32.0 L410.0,30.5 L411.2,30.0 L412.5,30.8 L413.6,30.5 L414.6,31.5 L416.0,35.3 L417.1,36.7 L418.2,41.6 L419.2,44.4 L420.3,47.9 L421.2,51.3 L422.2,54.3 L423.1,55.7 L424.3,56.6 L425.4,59.6 L426.6,60.6 L427.7,63.2 L428.7,61.8 L429.8,63.4 L430.8,63.4 L431.9,64.6 L433.0,65.3 L434.0,64.8 L435.1,65.5 L436.3,65.7 L437.4,65.9 L438.6,66.1 L518.0,66.1 L518.0,66.1 Z" fill="#FBD8B5"/>
<path d="M264.0,66.1 L292.0,66.1 L293.1,66.0 L294.3,65.8 L295.4,65.7 L296.5,65.6 L297.7,65.4 L298.8,65.4 L299.9,65.8 L301.1,64.9 L302.2,64.9 L303.3,66.1 L304.4,64.4 L305.5,64.9 L306.6,64.1 L307.8,63.9 L308.9,64.5 L310.0,64.0 L311.1,63.2 L312.2,63.6 L313.3,64.1 L314.4,61.5 L315.5,62.7 L316.6,62.3 L317.8,63.5 L318.9,63.0 L320.0,63.1 L321.1,62.6 L322.2,62.9 L323.3,63.1 L324.4,62.8 L325.6,62.9 L326.7,62.5 L327.8,62.4 L328.9,63.7 L330.1,63.4 L331.2,62.9 L332.3,62.9 L333.4,63.4 L334.5,63.5 L335.6,62.6 L336.7,62.1 L337.8,63.1 L338.9,64.5 L340.0,64.0 L341.1,62.1 L342.3,63.6 L343.4,63.3 L344.5,64.4 L345.6,63.5 L346.7,62.4 L347.8,62.9 L348.9,63.6 L350.0,63.7 L351.1,62.9 L352.2,63.5 L353.3,63.8 L354.4,63.5 L355.5,64.2 L356.6,64.0 L357.7,65.7 L358.8,62.8 L359.9,63.2 L361.1,64.8 L362.2,64.7 L363.3,64.2 L364.4,64.4 L365.5,65.1 L366.6,65.0 L367.7,64.0 L368.8,65.3 L369.9,64.9 L370.9,63.8 L371.9,63.5 L372.9,62.9 L373.9,61.3 L374.9,61.1 L376.0,59.6 L377.1,61.0 L378.2,59.4 L379.2,58.6 L380.3,57.8 L381.4,57.7 L382.5,57.3 L383.5,57.7 L384.5,56.3 L385.5,56.8 L386.5,55.7 L387.5,55.1 L388.8,54.9 L390.0,54.3 L391.1,52.8 L392.1,51.7 L393.1,51.0 L394.2,48.6 L395.1,47.3 L396.1,45.2 L397.0,46.5 L398.0,45.7 L398.9,47.5 L399.9,45.1 L401.1,41.6 L402.2,40.9 L403.4,38.1 L404.4,35.5 L405.5,31.5 L406.5,32.1 L407.5,30.8 L408.5,32.0 L410.0,30.5 L411.2,30.0 L412.5,30.8 L413.6,30.5 L414.6,31.5 L416.0,35.3 L417.1,36.7 L418.2,41.6 L419.2,44.4 L420.3,47.9 L421.2,51.3 L422.2,54.3 L423.1,55.7 L424.3,56.6 L425.4,59.6 L426.6,60.6 L427.7,63.2 L428.7,61.8 L429.8,63.4 L430.8,63.4 L431.9,64.6 L433.0,65.3 L434.0,64.8 L435.1,65.5 L436.3,65.7 L437.4,65.9 L438.6,66.1 L518.0,66.1" fill="none" stroke="#DC8A50" stroke-width="1.6" stroke-linejoin="round"/>
<path d="M264.0,84.9 L264.0,84.9 L294.6,84.9 L295.7,84.6 L296.8,84.3 L298.0,83.7 L299.1,83.5 L300.2,84.2 L301.3,82.6 L302.5,82.2 L303.6,82.3 L304.7,82.4 L305.8,81.8 L306.9,81.5 L308.0,82.0 L309.1,83.8 L310.3,81.1 L311.4,80.2 L312.5,81.0 L313.6,81.3 L314.7,79.9 L315.8,79.5 L316.9,78.6 L318.0,79.3 L319.1,79.3 L320.3,76.7 L321.4,75.8 L322.5,76.3 L323.6,76.3 L324.7,74.9 L325.8,75.3 L326.9,72.8 L328.0,72.8 L329.0,70.1 L330.1,68.8 L331.2,69.2 L332.3,68.6 L333.3,68.5 L334.3,65.0 L335.3,64.8 L336.3,64.0 L337.3,62.4 L338.5,58.8 L339.8,57.9 L341.0,54.8 L341.9,51.8 L342.8,48.6 L343.9,46.7 L345.0,47.8 L346.1,47.3 L347.3,48.5 L348.6,47.9 L349.8,48.6 L351.1,49.6 L352.3,48.9 L353.6,49.8 L354.9,51.5 L356.1,51.2 L357.4,52.3 L358.6,53.3 L359.9,54.8 L361.1,56.1 L362.4,56.8 L363.6,60.1 L364.9,61.1 L365.9,61.9 L366.9,61.2 L367.9,63.9 L368.9,65.9 L369.9,66.1 L370.9,67.2 L371.9,68.5 L372.9,69.0 L373.9,69.0 L374.9,71.1 L375.9,72.5 L376.9,72.5 L377.9,73.4 L378.9,73.5 L379.9,76.2 L380.9,77.6 L381.9,77.6 L383.0,79.1 L384.0,79.6 L385.0,79.9 L386.2,80.6 L387.5,81.6 L388.7,82.4 L389.8,83.2 L390.9,83.8 L392.0,83.7 L393.1,83.9 L394.3,84.3 L395.4,84.4 L396.6,84.4 L397.7,84.6 L398.9,84.7 L400.0,84.9 L518.0,84.9 L518.0,84.9 Z" fill="#fff"/>
<path d="M264.0,84.9 L294.6,84.9 L295.7,84.6 L296.8,84.3 L298.0,83.7 L299.1,83.5 L300.2,84.2 L301.3,82.6 L302.5,82.2 L303.6,82.3 L304.7,82.4 L305.8,81.8 L306.9,81.5 L308.0,82.0 L309.1,83.8 L310.3,81.1 L311.4,80.2 L312.5,81.0 L313.6,81.3 L314.7,79.9 L315.8,79.5 L316.9,78.6 L318.0,79.3 L319.1,79.3 L320.3,76.7 L321.4,75.8 L322.5,76.3 L323.6,76.3 L324.7,74.9 L325.8,75.3 L326.9,72.8 L328.0,72.8 L329.0,70.1 L330.1,68.8 L331.2,69.2 L332.3,68.6 L333.3,68.5 L334.3,65.0 L335.3,64.8 L336.3,64.0 L337.3,62.4 L338.5,58.8 L339.8,57.9 L341.0,54.8 L341.9,51.8 L342.8,48.6 L343.9,46.7 L345.0,47.8 L346.1,47.3 L347.3,48.5 L348.6,47.9 L349.8,48.6 L351.1,49.6 L352.3,48.9 L353.6,49.8 L354.9,51.5 L356.1,51.2 L357.4,52.3 L358.6,53.3 L359.9,54.8 L361.1,56.1 L362.4,56.8 L363.6,60.1 L364.9,61.1 L365.9,61.9 L366.9,61.2 L367.9,63.9 L368.9,65.9 L369.9,66.1 L370.9,67.2 L371.9,68.5 L372.9,69.0 L373.9,69.0 L374.9,71.1 L375.9,72.5 L376.9,72.5 L377.9,73.4 L378.9,73.5 L379.9,76.2 L380.9,77.6 L381.9,77.6 L383.0,79.1 L384.0,79.6 L385.0,79.9 L386.2,80.6 L387.5,81.6 L388.7,82.4 L389.8,83.2 L390.9,83.8 L392.0,83.7 L393.1,83.9 L394.3,84.3 L395.4,84.4 L396.6,84.4 L397.7,84.6 L398.9,84.7 L400.0,84.9 L518.0,84.9" fill="none" stroke="#E6772A" stroke-width="2.8" stroke-linejoin="round"/>
<path d="M264.0,105.3 L264.0,105.3 L297.0,105.3 L307.2,105.3 L308.3,105.3 L309.4,105.3 L310.5,105.3 L311.6,105.3 L312.8,105.3 L313.9,105.3 L315.0,105.3 L316.1,105.3 L317.2,105.3 L318.3,105.3 L319.3,105.3 L320.4,105.3 L321.5,105.3 L322.6,105.3 L323.6,105.3 L324.7,105.3 L325.8,105.3 L326.9,105.3 L328.0,105.3 L329.1,105.3 L330.2,105.3 L331.3,105.3 L332.4,105.3 L333.4,105.3 L334.5,105.3 L335.6,105.3 L336.7,105.3 L337.8,105.3 L338.9,105.3 L340.0,105.3 L341.1,105.3 L342.2,105.3 L343.3,105.3 L344.4,105.3 L345.4,105.3 L346.5,105.3 L347.6,105.3 L348.7,105.3 L349.8,105.3 L350.9,105.3 L352.0,105.3 L353.0,105.3 L354.1,105.3 L355.2,105.3 L356.3,101.9 L357.4,101.9 L358.5,101.8 L359.6,101.2 L360.8,101.3 L361.9,101.6 L363.0,100.7 L364.2,100.0 L365.3,100.9 L366.5,101.4 L367.7,100.2 L368.8,98.5 L370.0,98.9 L371.2,97.6 L372.3,98.4 L373.5,96.1 L374.6,96.9 L375.8,96.6 L376.9,96.2 L377.9,96.5 L378.9,94.4 L380.0,93.5 L381.2,92.6 L382.4,92.2 L383.6,90.8 L384.8,89.5 L386.0,88.6 L387.3,88.5 L388.5,85.8 L389.4,82.9 L390.3,81.5 L391.2,79.0 L392.1,77.2 L393.4,74.9 L394.6,72.3 L395.8,72.8 L397.0,71.7 L398.2,70.8 L399.5,69.9 L400.7,69.5 L401.9,68.7 L402.8,68.6 L403.7,69.9 L404.6,71.1 L405.6,74.3 L406.5,77.2 L407.4,76.6 L408.4,79.7 L409.3,84.1 L410.5,87.6 L411.7,91.9 L412.9,93.7 L414.1,96.8 L415.1,99.4 L416.0,100.6 L417.0,101.9 L418.2,102.8 L419.4,104.6 L420.6,104.9 L421.9,105.3 L518.0,105.3 L518.0,105.3 Z" fill="#BDE4EA"/>
<path d="M264.0,105.3 L297.0,105.3 L307.2,104.8 L308.3,104.7 L309.4,105.0 L310.5,105.1 L311.6,104.6 L312.8,104.6 L313.9,104.5 L315.0,104.4 L316.1,104.5 L317.2,104.0 L318.3,103.6 L319.3,103.5 L320.4,103.1 L321.5,103.5 L322.6,104.4 L323.6,103.6 L324.7,102.8 L325.8,102.7 L326.9,104.1 L328.0,103.1 L329.1,103.2 L330.2,102.6 L331.3,103.9 L332.4,102.2 L333.4,101.4 L334.5,103.3 L335.6,102.2 L336.7,102.4 L337.8,101.7 L338.9,102.6 L340.0,102.6 L341.1,102.3 L342.2,102.5 L343.3,102.1 L344.4,102.9 L345.4,103.0 L346.5,103.0 L347.6,103.3 L348.7,103.1 L349.8,102.5 L350.9,103.1 L352.0,102.8 L353.0,102.1 L354.1,101.3 L355.2,102.5 L356.3,101.9 L357.4,101.9 L358.5,101.8 L359.6,101.2 L360.8,101.3 L361.9,101.6 L363.0,100.7 L364.2,100.0 L365.3,100.9 L366.5,101.4 L367.7,100.2 L368.8,98.5 L370.0,98.9 L371.2,97.6 L372.3,98.4 L373.5,96.1 L374.6,96.9 L375.8,96.6 L376.9,96.2 L377.9,96.5 L378.9,94.4 L380.0,93.5 L381.2,92.6 L382.4,92.2 L383.6,90.8 L384.8,89.5 L386.0,88.6 L387.3,88.5 L388.5,85.8 L389.4,82.9 L390.3,81.5 L391.2,79.0 L392.1,77.2 L393.4,74.9 L394.6,72.3 L395.8,72.8 L397.0,71.7 L398.2,70.8 L399.5,69.9 L400.7,69.5 L401.9,68.7 L402.8,68.6 L403.7,69.9 L404.6,71.1 L405.6,74.3 L406.5,77.2 L407.4,76.6 L408.4,79.7 L409.3,84.1 L410.5,87.6 L411.7,91.9 L412.9,93.7 L414.1,96.8 L415.1,99.4 L416.0,100.6 L417.0,101.9 L418.2,102.8 L419.4,104.6 L420.6,104.9 L421.9,105.3 L518.0,105.3" fill="none" stroke="#50AAB8" stroke-width="1.6" stroke-linejoin="round"/>
<path d="M264.0,124.3 L264.0,124.3 L294.6,124.3 L295.7,124.0 L296.8,123.7 L297.9,123.2 L298.9,122.9 L300.0,123.7 L301.1,123.3 L302.2,122.3 L303.3,122.1 L304.3,120.6 L305.4,120.6 L306.5,122.3 L307.6,121.3 L308.6,121.2 L309.7,119.8 L310.8,119.7 L311.8,117.1 L312.9,118.1 L314.0,116.6 L315.1,117.5 L316.1,117.3 L317.2,114.8 L318.3,113.8 L319.3,112.4 L320.4,110.2 L321.5,110.3 L322.6,106.7 L323.6,106.7 L324.7,104.8 L325.7,103.4 L326.7,102.4 L327.8,99.8 L328.8,99.3 L329.8,97.2 L330.8,96.5 L331.8,93.8 L332.8,93.7 L333.8,92.3 L334.8,91.0 L336.0,89.4 L337.3,88.8 L338.5,87.2 L339.8,86.3 L341.0,86.7 L342.3,87.7 L343.5,88.0 L344.8,88.5 L346.1,89.5 L347.3,92.7 L348.6,93.5 L349.8,96.2 L351.1,97.6 L352.3,101.0 L353.6,105.0 L354.8,106.5 L356.1,109.8 L357.4,110.6 L358.6,115.4 L359.9,117.3 L361.1,118.0 L362.4,119.7 L363.6,121.8 L364.9,122.3 L366.1,122.3 L367.4,123.6 L368.7,123.9 L370.0,124.3 L518.0,124.3 L518.0,124.3 Z" fill="#fff"/>
<path d="M264.0,124.3 L294.6,124.3 L295.7,124.0 L296.8,123.7 L297.9,123.2 L298.9,122.9 L300.0,123.7 L301.1,123.3 L302.2,122.3 L303.3,122.1 L304.3,120.6 L305.4,120.6 L306.5,122.3 L307.6,121.3 L308.6,121.2 L309.7,119.8 L310.8,119.7 L311.8,117.1 L312.9,118.1 L314.0,116.6 L315.1,117.5 L316.1,117.3 L317.2,114.8 L318.3,113.8 L319.3,112.4 L320.4,110.2 L321.5,110.3 L322.6,106.7 L323.6,106.7 L324.7,104.8 L325.7,103.4 L326.7,102.4 L327.8,99.8 L328.8,99.3 L329.8,97.2 L330.8,96.5 L331.8,93.8 L332.8,93.7 L333.8,92.3 L334.8,91.0 L336.0,89.4 L337.3,88.8 L338.5,87.2 L339.8,86.3 L341.0,86.7 L342.3,87.7 L343.5,88.0 L344.8,88.5 L346.1,89.5 L347.3,92.7 L348.6,93.5 L349.8,96.2 L351.1,97.6 L352.3,101.0 L353.6,105.0 L354.8,106.5 L356.1,109.8 L357.4,110.6 L358.6,115.4 L359.9,117.3 L361.1,118.0 L362.4,119.7 L363.6,121.8 L364.9,122.3 L366.1,122.3 L367.4,123.6 L368.7,123.9 L370.0,124.3 L518.0,124.3" fill="none" stroke="#5ABBC8" stroke-width="2.8" stroke-linejoin="round"/>
<path d="M264.0,144.4 L264.0,144.4 L297.1,144.4 L298.2,144.1 L299.3,144.4 L300.4,143.7 L301.4,143.6 L302.5,143.3 L303.6,141.9 L304.7,142.2 L305.8,141.1 L306.8,140.6 L307.9,140.7 L309.0,141.0 L310.1,139.0 L311.1,137.9 L312.2,137.6 L313.2,136.3 L314.2,135.2 L315.2,136.0 L316.2,133.4 L317.2,132.6 L318.2,131.5 L319.2,130.8 L320.2,131.0 L321.2,129.7 L322.2,128.1 L323.2,128.5 L324.2,128.5 L325.2,126.8 L326.2,127.2 L327.2,126.3 L328.5,127.1 L329.7,126.8 L331.0,126.8 L332.3,130.1 L333.5,129.1 L334.8,130.1 L336.1,130.4 L337.3,132.6 L338.4,132.6 L339.5,134.8 L340.6,133.9 L341.7,132.2 L342.8,135.1 L343.9,134.7 L345.0,135.0 L346.1,135.7 L347.3,136.9 L348.4,135.6 L349.5,137.4 L350.6,136.5 L351.7,137.5 L352.8,136.5 L353.9,138.1 L355.0,138.0 L356.1,139.1 L357.2,138.5 L358.3,137.4 L359.4,138.5 L360.4,138.5 L361.5,138.8 L362.6,138.3 L363.7,139.8 L364.8,140.7 L365.9,140.4 L367.0,141.0 L368.0,141.0 L369.1,140.2 L370.2,140.9 L371.3,141.7 L372.4,141.4 L373.5,141.8 L374.6,141.7 L375.7,139.2 L376.7,139.6 L377.8,138.8 L378.9,138.8 L380.0,137.5 L381.0,136.7 L382.0,137.0 L383.0,136.7 L384.0,136.9 L385.0,135.9 L386.0,136.2 L387.0,134.1 L388.1,135.0 L389.1,136.2 L390.1,136.2 L391.1,134.4 L392.2,132.7 L393.4,129.5 L394.7,130.3 L395.9,128.9 L397.2,126.8 L398.4,126.4 L399.5,125.2 L400.5,125.0 L401.6,122.1 L402.6,120.6 L403.8,121.7 L404.9,119.9 L405.9,119.7 L406.9,118.8 L407.9,117.6 L409.0,115.5 L410.2,112.2 L411.2,111.8 L412.3,110.4 L413.3,111.5 L414.5,109.9 L415.6,109.2 L416.8,111.1 L417.9,110.7 L418.9,109.0 L419.9,107.3 L420.9,107.3 L421.9,108.3 L423.0,110.5 L424.0,110.7 L425.0,113.9 L426.1,113.2 L427.1,115.3 L428.4,117.7 L429.6,119.9 L430.9,122.9 L431.9,125.9 L433.0,127.1 L434.0,130.6 L435.0,133.4 L436.0,134.7 L437.0,137.5 L438.3,138.6 L439.5,141.6 L440.8,142.1 L441.9,142.3 L443.1,142.4 L444.2,143.8 L445.4,144.4 L518.0,144.4 L518.0,144.4 Z" fill="#F6ADB3"/>
<path d="M264.0,144.4 L297.1,144.4 L298.2,144.1 L299.3,144.4 L300.4,143.7 L301.4,143.6 L302.5,143.3 L303.6,141.9 L304.7,142.2 L305.8,141.1 L306.8,140.6 L307.9,140.7 L309.0,141.0 L310.1,139.0 L311.1,137.9 L312.2,137.6 L313.2,136.3 L314.2,135.2 L315.2,136.0 L316.2,133.4 L317.2,132.6 L318.2,131.5 L319.2,130.8 L320.2,131.0 L321.2,129.7 L322.2,128.1 L323.2,128.5 L324.2,128.5 L325.2,126.8 L326.2,127.2 L327.2,126.3 L328.5,127.1 L329.7,126.8 L331.0,126.8 L332.3,130.1 L333.5,129.1 L334.8,130.1 L336.1,130.4 L337.3,132.6 L338.4,132.6 L339.5,134.8 L340.6,133.9 L341.7,132.2 L342.8,135.1 L343.9,134.7 L345.0,135.0 L346.1,135.7 L347.3,136.9 L348.4,135.6 L349.5,137.4 L350.6,136.5 L351.7,137.5 L352.8,136.5 L353.9,138.1 L355.0,138.0 L356.1,139.1 L357.2,138.5 L358.3,137.4 L359.4,138.5 L360.4,138.5 L361.5,138.8 L362.6,138.3 L363.7,139.8 L364.8,140.7 L365.9,140.4 L367.0,141.0 L368.0,141.0 L369.1,140.2 L370.2,140.9 L371.3,141.7 L372.4,141.4 L373.5,141.8 L374.6,141.7 L375.7,139.2 L376.7,139.6 L377.8,138.8 L378.9,138.8 L380.0,137.5 L381.0,136.7 L382.0,137.0 L383.0,136.7 L384.0,136.9 L385.0,135.9 L386.0,136.2 L387.0,134.1 L388.1,135.0 L389.1,136.2 L390.1,136.2 L391.1,134.4 L392.2,132.7 L393.4,129.5 L394.7,130.3 L395.9,128.9 L397.2,126.8 L398.4,126.4 L399.5,125.2 L400.5,125.0 L401.6,122.1 L402.6,120.6 L403.8,121.7 L404.9,119.9 L405.9,119.7 L406.9,118.8 L407.9,117.6 L409.0,115.5 L410.2,112.2 L411.2,111.8 L412.3,110.4 L413.3,111.5 L414.5,109.9 L415.6,109.2 L416.8,111.1 L417.9,110.7 L418.9,109.0 L419.9,107.3 L420.9,107.3 L421.9,108.3 L423.0,110.5 L424.0,110.7 L425.0,113.9 L426.1,113.2 L427.1,115.3 L428.4,117.7 L429.6,119.9 L430.9,122.9 L431.9,125.9 L433.0,127.1 L434.0,130.6 L435.0,133.4 L436.0,134.7 L437.0,137.5 L438.3,138.6 L439.5,141.6 L440.8,142.1 L441.9,142.3 L443.1,142.4 L444.2,143.8 L445.4,144.4 L518.0,144.4" fill="none" stroke="#BE2836" stroke-width="1.6" stroke-linejoin="round"/>
<path d="M264.0,163.7 L264.0,163.7 L299.6,163.7 L300.6,163.3 L301.6,163.2 L302.7,162.5 L303.7,161.7 L304.7,161.7 L305.8,162.2 L306.8,160.5 L307.9,159.8 L309.0,159.6 L310.1,158.0 L311.1,158.6 L312.2,157.9 L313.3,156.6 L314.3,156.9 L315.4,155.2 L316.5,154.0 L317.6,151.8 L318.6,152.1 L319.7,150.4 L320.7,149.1 L321.7,147.5 L322.7,145.2 L323.7,146.3 L324.7,142.9 L325.7,141.2 L326.7,139.9 L327.8,140.6 L328.8,138.9 L329.8,137.8 L330.8,137.2 L331.8,135.6 L332.8,134.6 L333.8,133.5 L334.8,134.1 L335.8,134.0 L336.8,131.7 L337.8,131.8 L338.8,130.0 L339.8,130.3 L340.8,131.0 L341.8,130.5 L342.8,128.2 L343.8,127.5 L344.8,127.8 L346.1,126.6 L347.3,126.2 L348.6,125.3 L349.8,127.6 L351.1,127.6 L352.3,127.8 L353.3,126.4 L354.3,128.9 L355.4,128.8 L356.4,128.2 L357.4,129.1 L358.4,129.8 L359.4,128.8 L360.4,128.3 L361.4,127.8 L362.4,129.1 L363.4,130.1 L364.4,131.5 L365.4,129.9 L366.4,132.1 L367.4,132.8 L368.4,134.0 L369.4,133.8 L370.4,138.3 L371.4,138.2 L372.4,139.1 L373.7,141.2 L374.9,144.3 L376.2,146.6 L377.4,148.8 L378.7,150.1 L379.9,152.9 L381.2,154.7 L382.5,157.9 L383.7,158.9 L384.8,159.7 L386.0,162.2 L387.2,162.6 L388.4,162.6 L389.6,163.1 L390.8,163.4 L392.0,163.7 L518.0,163.7 L518.0,163.7 Z" fill="#fff"/>
<path d="M264.0,163.7 L299.6,163.7 L300.6,163.3 L301.6,163.2 L302.7,162.5 L303.7,161.7 L304.7,161.7 L305.8,162.2 L306.8,160.5 L307.9,159.8 L309.0,159.6 L310.1,158.0 L311.1,158.6 L312.2,157.9 L313.3,156.6 L314.3,156.9 L315.4,155.2 L316.5,154.0 L317.6,151.8 L318.6,152.1 L319.7,150.4 L320.7,149.1 L321.7,147.5 L322.7,145.2 L323.7,146.3 L324.7,142.9 L325.7,141.2 L326.7,139.9 L327.8,140.6 L328.8,138.9 L329.8,137.8 L330.8,137.2 L331.8,135.6 L332.8,134.6 L333.8,133.5 L334.8,134.1 L335.8,134.0 L336.8,131.7 L337.8,131.8 L338.8,130.0 L339.8,130.3 L340.8,131.0 L341.8,130.5 L342.8,128.2 L343.8,127.5 L344.8,127.8 L346.1,126.6 L347.3,126.2 L348.6,125.3 L349.8,127.6 L351.1,127.6 L352.3,127.8 L353.3,126.4 L354.3,128.9 L355.4,128.8 L356.4,128.2 L357.4,129.1 L358.4,129.8 L359.4,128.8 L360.4,128.3 L361.4,127.8 L362.4,129.1 L363.4,130.1 L364.4,131.5 L365.4,129.9 L366.4,132.1 L367.4,132.8 L368.4,134.0 L369.4,133.8 L370.4,138.3 L371.4,138.2 L372.4,139.1 L373.7,141.2 L374.9,144.3 L376.2,146.6 L377.4,148.8 L378.7,150.1 L379.9,152.9 L381.2,154.7 L382.5,157.9 L383.7,158.9 L384.8,159.7 L386.0,162.2 L387.2,162.6 L388.4,162.6 L389.6,163.1 L390.8,163.4 L392.0,163.7 L518.0,163.7" fill="none" stroke="#D2202E" stroke-width="2.8" stroke-linejoin="round"/>
<path d="M264.0,183.0 L264.0,183.0 L299.6,183.0 L300.7,182.7 L301.8,182.5 L302.9,182.5 L303.9,181.9 L305.0,181.6 L306.1,181.5 L307.2,181.2 L308.3,180.9 L309.3,179.3 L310.4,180.2 L311.5,178.1 L312.6,177.2 L313.6,178.1 L314.7,177.4 L315.8,177.0 L316.8,176.3 L317.9,176.1 L319.0,171.6 L320.1,173.8 L321.1,173.0 L322.2,171.2 L323.2,170.7 L324.2,169.2 L325.2,169.2 L326.2,165.4 L327.2,164.9 L328.5,162.2 L329.7,161.8 L331.0,158.6 L332.3,157.7 L333.5,154.5 L334.8,153.6 L335.8,153.2 L336.8,150.7 L337.8,152.3 L338.8,151.7 L339.8,149.8 L341.1,148.0 L342.3,147.3 L343.6,147.3 L344.6,146.4 L345.6,147.5 L346.6,146.5 L347.6,145.1 L348.6,146.8 L349.8,149.1 L351.1,150.0 L352.3,151.1 L353.3,153.7 L354.3,152.9 L355.4,155.6 L356.4,154.3 L357.4,154.9 L358.6,156.1 L359.9,155.0 L361.1,157.4 L362.4,158.9 L363.6,158.8 L364.9,158.6 L365.9,158.5 L366.9,160.1 L367.9,157.3 L368.9,157.1 L369.9,158.6 L371.0,159.1 L372.0,158.1 L373.1,159.5 L374.2,157.6 L375.3,159.7 L376.3,158.6 L377.4,158.6 L378.5,158.1 L379.6,158.4 L380.7,157.4 L381.7,159.1 L382.8,158.3 L383.9,158.5 L385.0,157.4 L386.0,156.6 L387.0,157.4 L388.0,156.9 L389.1,156.6 L390.1,156.6 L391.2,156.9 L392.3,155.9 L393.4,158.2 L394.4,157.4 L395.5,157.9 L396.5,156.4 L397.5,157.3 L398.5,156.5 L399.5,158.2 L400.5,156.9 L401.5,156.0 L402.5,157.6 L403.6,157.6 L404.6,157.3 L405.6,157.9 L406.6,158.3 L407.6,157.6 L408.6,158.1 L409.6,156.2 L410.6,157.9 L411.8,157.9 L413.1,158.5 L414.3,159.4 L415.6,163.2 L416.8,160.9 L418.1,163.6 L419.1,164.1 L420.1,165.9 L421.1,166.5 L422.1,168.5 L423.1,168.7 L424.1,170.1 L425.1,170.4 L426.2,170.3 L427.2,173.3 L428.2,173.7 L429.2,175.2 L430.2,175.8 L431.2,178.1 L432.2,177.5 L433.2,179.4 L434.4,181.0 L435.7,181.1 L436.9,182.5 L438.0,183.0 L518.0,183.0 L518.0,183.0 Z" fill="#E4B6D9"/>
<path d="M264.0,183.0 L299.6,183.0 L300.7,182.7 L301.8,182.5 L302.9,182.5 L303.9,181.9 L305.0,181.6 L306.1,181.5 L307.2,181.2 L308.3,180.9 L309.3,179.3 L310.4,180.2 L311.5,178.1 L312.6,177.2 L313.6,178.1 L314.7,177.4 L315.8,177.0 L316.8,176.3 L317.9,176.1 L319.0,171.6 L320.1,173.8 L321.1,173.0 L322.2,171.2 L323.2,170.7 L324.2,169.2 L325.2,169.2 L326.2,165.4 L327.2,164.9 L328.5,162.2 L329.7,161.8 L331.0,158.6 L332.3,157.7 L333.5,154.5 L334.8,153.6 L335.8,153.2 L336.8,150.7 L337.8,152.3 L338.8,151.7 L339.8,149.8 L341.1,148.0 L342.3,147.3 L343.6,147.3 L344.6,146.4 L345.6,147.5 L346.6,146.5 L347.6,145.1 L348.6,146.8 L349.8,149.1 L351.1,150.0 L352.3,151.1 L353.3,153.7 L354.3,152.9 L355.4,155.6 L356.4,154.3 L357.4,154.9 L358.6,156.1 L359.9,155.0 L361.1,157.4 L362.4,158.9 L363.6,158.8 L364.9,158.6 L365.9,158.5 L366.9,160.1 L367.9,157.3 L368.9,157.1 L369.9,158.6 L371.0,159.1 L372.0,158.1 L373.1,159.5 L374.2,157.6 L375.3,159.7 L376.3,158.6 L377.4,158.6 L378.5,158.1 L379.6,158.4 L380.7,157.4 L381.7,159.1 L382.8,158.3 L383.9,158.5 L385.0,157.4 L386.0,156.6 L387.0,157.4 L388.0,156.9 L389.1,156.6 L390.1,156.6 L391.2,156.9 L392.3,155.9 L393.4,158.2 L394.4,157.4 L395.5,157.9 L396.5,156.4 L397.5,157.3 L398.5,156.5 L399.5,158.2 L400.5,156.9 L401.5,156.0 L402.5,157.6 L403.6,157.6 L404.6,157.3 L405.6,157.9 L406.6,158.3 L407.6,157.6 L408.6,158.1 L409.6,156.2 L410.6,157.9 L411.8,157.9 L413.1,158.5 L414.3,159.4 L415.6,163.2 L416.8,160.9 L418.1,163.6 L419.1,164.1 L420.1,165.9 L421.1,166.5 L422.1,168.5 L423.1,168.7 L424.1,170.1 L425.1,170.4 L426.2,170.3 L427.2,173.3 L428.2,173.7 L429.2,175.2 L430.2,175.8 L431.2,178.1 L432.2,177.5 L433.2,179.4 L434.4,181.0 L435.7,181.1 L436.9,182.5 L438.0,183.0 L518.0,183.0" fill="none" stroke="#8E4C8E" stroke-width="1.6" stroke-linejoin="round"/>
<path d="M264.0,202.0 L264.0,202.0 L294.6,202.0 L295.7,201.7 L296.8,201.4 L297.9,200.9 L298.9,200.5 L300.0,200.3 L301.1,201.3 L302.2,200.0 L303.3,200.3 L304.3,198.9 L305.4,199.5 L306.5,198.0 L307.6,198.4 L308.6,198.9 L309.7,197.5 L310.8,196.6 L311.8,196.2 L312.9,194.8 L314.0,194.4 L315.1,192.3 L316.1,189.7 L317.2,191.2 L318.2,189.7 L319.2,188.1 L320.2,187.5 L321.2,183.8 L322.2,182.5 L323.5,179.5 L324.7,178.3 L326.0,174.9 L327.3,172.4 L328.5,171.0 L329.8,168.7 L331.0,167.7 L332.3,167.8 L333.5,164.9 L334.8,164.4 L336.0,166.4 L337.3,167.4 L338.5,169.7 L339.8,170.4 L341.0,172.4 L342.3,175.5 L343.5,177.6 L344.8,180.0 L346.1,182.1 L347.3,183.8 L348.6,186.2 L349.8,188.6 L351.1,191.3 L352.3,192.5 L353.5,196.1 L354.8,195.4 L356.0,196.8 L357.2,197.6 L358.4,199.1 L359.6,197.5 L360.8,199.9 L362.0,200.3 L363.1,200.5 L364.3,200.7 L365.4,201.5 L366.6,201.1 L367.7,201.5 L368.9,201.8 L370.0,202.0 L518.0,202.0 L518.0,202.0 Z" fill="#fff"/>
<path d="M264.0,202.0 L294.6,202.0 L295.7,201.7 L296.8,201.4 L297.9,200.9 L298.9,200.5 L300.0,200.3 L301.1,201.3 L302.2,200.0 L303.3,200.3 L304.3,198.9 L305.4,199.5 L306.5,198.0 L307.6,198.4 L308.6,198.9 L309.7,197.5 L310.8,196.6 L311.8,196.2 L312.9,194.8 L314.0,194.4 L315.1,192.3 L316.1,189.7 L317.2,191.2 L318.2,189.7 L319.2,188.1 L320.2,187.5 L321.2,183.8 L322.2,182.5 L323.5,179.5 L324.7,178.3 L326.0,174.9 L327.3,172.4 L328.5,171.0 L329.8,168.7 L331.0,167.7 L332.3,167.8 L333.5,164.9 L334.8,164.4 L336.0,166.4 L337.3,167.4 L338.5,169.7 L339.8,170.4 L341.0,172.4 L342.3,175.5 L343.5,177.6 L344.8,180.0 L346.1,182.1 L347.3,183.8 L348.6,186.2 L349.8,188.6 L351.1,191.3 L352.3,192.5 L353.5,196.1 L354.8,195.4 L356.0,196.8 L357.2,197.6 L358.4,199.1 L359.6,197.5 L360.8,199.9 L362.0,200.3 L363.1,200.5 L364.3,200.7 L365.4,201.5 L366.6,201.1 L367.7,201.5 L368.9,201.8 L370.0,202.0 L518.0,202.0" fill="none" stroke="#A8468E" stroke-width="2.8" stroke-linejoin="round"/>
<path d="M264.0,222.9 L264.0,222.9 L297.1,222.9 L298.2,222.7 L299.3,222.5 L300.4,222.3 L301.4,221.8 L302.5,221.6 L303.6,222.2 L304.7,221.6 L305.8,220.7 L306.8,220.9 L307.9,220.3 L309.0,221.0 L310.1,220.5 L311.1,221.5 L312.2,220.4 L313.3,219.6 L314.3,220.5 L315.4,219.4 L316.5,218.4 L317.6,219.2 L318.6,217.0 L319.7,217.8 L320.8,217.4 L321.8,216.8 L322.9,217.4 L324.0,216.9 L325.1,214.7 L326.1,216.0 L327.2,215.3 L328.2,214.4 L329.2,214.4 L330.3,213.8 L331.3,215.1 L332.3,212.3 L333.3,211.6 L334.3,210.6 L335.3,212.5 L336.3,212.2 L337.3,211.4 L338.3,210.0 L339.3,210.6 L340.3,211.5 L341.3,210.4 L342.3,209.2 L343.5,208.1 L344.8,206.2 L346.0,204.9 L347.2,203.2 L348.4,202.2 L349.7,198.8 L350.9,197.2 L352.1,197.5 L353.4,195.2 L354.6,194.7 L355.8,192.7 L357.1,192.5 L358.3,194.1 L359.5,192.8 L360.7,194.1 L361.9,194.3 L363.1,195.7 L364.3,195.1 L365.6,193.8 L366.8,193.4 L368.0,194.5 L369.2,193.3 L370.5,192.3 L371.7,192.8 L372.8,194.9 L373.8,194.0 L374.9,194.0 L376.0,194.0 L377.1,194.1 L378.2,194.2 L379.2,192.6 L380.3,192.2 L381.4,191.7 L382.5,191.5 L383.5,192.5 L384.5,190.7 L385.5,190.7 L386.5,189.7 L387.5,190.2 L388.5,189.6 L389.5,187.4 L390.5,186.6 L391.5,185.9 L392.5,185.9 L393.4,187.1 L394.3,189.1 L395.6,190.9 L396.8,191.6 L398.1,193.1 L399.3,194.2 L400.6,196.9 L401.8,199.2 L403.1,200.4 L404.3,202.9 L405.6,205.4 L406.8,208.1 L408.1,209.3 L409.3,211.7 L410.6,213.2 L411.8,214.6 L413.1,216.7 L414.4,217.5 L415.6,219.7 L416.9,220.5 L418.1,221.1 L419.4,222.2 L421.0,222.9 L518.0,222.9 L518.0,222.9 Z" fill="#DDCBE7"/>
<path d="M264.0,222.9 L297.1,222.9 L298.2,222.7 L299.3,222.5 L300.4,222.3 L301.4,221.8 L302.5,221.6 L303.6,222.2 L304.7,221.6 L305.8,220.7 L306.8,220.9 L307.9,220.3 L309.0,221.0 L310.1,220.5 L311.1,221.5 L312.2,220.4 L313.3,219.6 L314.3,220.5 L315.4,219.4 L316.5,218.4 L317.6,219.2 L318.6,217.0 L319.7,217.8 L320.8,217.4 L321.8,216.8 L322.9,217.4 L324.0,216.9 L325.1,214.7 L326.1,216.0 L327.2,215.3 L328.2,214.4 L329.2,214.4 L330.3,213.8 L331.3,215.1 L332.3,212.3 L333.3,211.6 L334.3,210.6 L335.3,212.5 L336.3,212.2 L337.3,211.4 L338.3,210.0 L339.3,210.6 L340.3,211.5 L341.3,210.4 L342.3,209.2 L343.5,208.1 L344.8,206.2 L346.0,204.9 L347.2,203.2 L348.4,202.2 L349.7,198.8 L350.9,197.2 L352.1,197.5 L353.4,195.2 L354.6,194.7 L355.8,192.7 L357.1,192.5 L358.3,194.1 L359.5,192.8 L360.7,194.1 L361.9,194.3 L363.1,195.7 L364.3,195.1 L365.6,193.8 L366.8,193.4 L368.0,194.5 L369.2,193.3 L370.5,192.3 L371.7,192.8 L372.8,194.9 L373.8,194.0 L374.9,194.0 L376.0,194.0 L377.1,194.1 L378.2,194.2 L379.2,192.6 L380.3,192.2 L381.4,191.7 L382.5,191.5 L383.5,192.5 L384.5,190.7 L385.5,190.7 L386.5,189.7 L387.5,190.2 L388.5,189.6 L389.5,187.4 L390.5,186.6 L391.5,185.9 L392.5,185.9 L393.4,187.1 L394.3,189.1 L395.6,190.9 L396.8,191.6 L398.1,193.1 L399.3,194.2 L400.6,196.9 L401.8,199.2 L403.1,200.4 L404.3,202.9 L405.6,205.4 L406.8,208.1 L408.1,209.3 L409.3,211.7 L410.6,213.2 L411.8,214.6 L413.1,216.7 L414.4,217.5 L415.6,219.7 L416.9,220.5 L418.1,221.1 L419.4,222.2 L421.0,222.9 L518.0,222.9" fill="none" stroke="#664E98" stroke-width="1.6" stroke-linejoin="round"/>
<path d="M264.0,241.2 L264.0,241.2 L304.7,241.2 L305.8,241.1 L306.8,241.0 L307.9,240.9 L309.0,240.7 L310.1,240.6 L311.1,240.3 L312.2,240.4 L313.3,240.8 L314.3,239.2 L315.4,239.1 L316.5,238.9 L317.6,237.9 L318.6,238.0 L319.7,238.7 L320.8,238.6 L321.8,237.9 L322.9,238.8 L324.0,237.9 L325.1,238.1 L326.1,236.7 L327.2,236.7 L328.3,237.9 L329.4,235.9 L330.5,236.0 L331.5,234.1 L332.6,232.5 L333.7,233.3 L334.8,232.9 L335.8,230.5 L336.8,231.3 L337.8,230.1 L338.8,230.3 L339.8,229.1 L340.8,227.8 L341.8,227.0 L342.8,224.3 L343.8,223.0 L344.8,222.9 L345.8,220.7 L346.8,218.7 L347.8,218.7 L348.8,216.3 L349.8,215.3 L351.1,212.4 L352.3,211.2 L353.6,207.8 L354.9,205.6 L356.1,204.0 L357.4,204.6 L358.6,204.5 L359.9,205.3 L361.1,207.7 L362.4,208.2 L363.6,209.1 L364.9,211.6 L366.1,214.7 L367.4,217.8 L368.5,222.5 L369.7,223.6 L370.9,228.6 L372.0,229.5 L373.2,232.5 L374.3,236.5 L375.5,238.2 L376.5,238.6 L377.5,239.8 L378.5,240.8 L390.0,241.2 L518.0,241.2 L518.0,241.2 Z" fill="#fff"/>
<path d="M264.0,241.2 L304.7,241.2 L305.8,241.1 L306.8,241.0 L307.9,240.9 L309.0,240.7 L310.1,240.6 L311.1,240.3 L312.2,240.4 L313.3,240.8 L314.3,239.2 L315.4,239.1 L316.5,238.9 L317.6,237.9 L318.6,238.0 L319.7,238.7 L320.8,238.6 L321.8,237.9 L322.9,238.8 L324.0,237.9 L325.1,238.1 L326.1,236.7 L327.2,236.7 L328.3,237.9 L329.4,235.9 L330.5,236.0 L331.5,234.1 L332.6,232.5 L333.7,233.3 L334.8,232.9 L335.8,230.5 L336.8,231.3 L337.8,230.1 L338.8,230.3 L339.8,229.1 L340.8,227.8 L341.8,227.0 L342.8,224.3 L343.8,223.0 L344.8,222.9 L345.8,220.7 L346.8,218.7 L347.8,218.7 L348.8,216.3 L349.8,215.3 L351.1,212.4 L352.3,211.2 L353.6,207.8 L354.9,205.6 L356.1,204.0 L357.4,204.6 L358.6,204.5 L359.9,205.3 L361.1,207.7 L362.4,208.2 L363.6,209.1 L364.9,211.6 L366.1,214.7 L367.4,217.8 L368.5,222.5 L369.7,223.6 L370.9,228.6 L372.0,229.5 L373.2,232.5 L374.3,236.5 L375.5,238.2 L376.5,238.6 L377.5,239.8 L378.5,240.8 L390.0,241.2 L518.0,241.2" fill="none" stroke="#6E4B98" stroke-width="2.8" stroke-linejoin="round"/>
<path d="M264.0,261.6 L264.0,261.6 L297.1,261.6 L298.2,261.5 L299.3,261.3 L300.5,261.2 L301.6,261.1 L302.7,261.0 L303.8,260.8 L305.0,261.2 L306.1,259.5 L307.2,260.4 L308.3,260.5 L309.5,259.4 L310.6,259.7 L311.7,260.3 L312.9,259.4 L314.0,260.0 L315.2,258.5 L316.3,259.3 L317.4,259.3 L318.6,259.0 L319.7,258.6 L320.8,258.1 L321.9,259.7 L323.1,258.8 L324.2,258.2 L325.3,257.7 L326.4,258.8 L327.6,259.0 L328.7,258.6 L329.8,257.3 L330.8,258.3 L331.8,256.6 L332.8,255.8 L333.8,256.9 L334.8,256.2 L335.9,256.3 L337.1,255.8 L338.2,256.1 L339.3,254.7 L340.5,257.5 L341.6,255.5 L342.7,255.0 L343.9,256.6 L345.0,255.7 L346.1,254.9 L347.2,256.6 L348.3,254.4 L349.4,256.3 L350.6,255.7 L351.7,255.1 L352.8,255.3 L353.9,254.9 L355.0,255.2 L356.0,255.0 L357.0,251.9 L358.0,252.9 L359.0,252.4 L360.0,251.7 L361.0,251.0 L362.1,249.5 L363.1,250.6 L364.2,249.2 L365.2,249.8 L366.3,247.6 L367.3,247.1 L368.4,246.7 L369.4,243.9 L370.5,244.1 L371.5,243.1 L372.6,241.6 L373.6,240.8 L374.7,240.4 L375.7,239.1 L376.8,237.1 L377.8,236.9 L378.9,235.9 L379.9,234.8 L381.0,233.2 L382.0,233.0 L383.1,231.7 L384.1,231.3 L385.2,230.8 L386.3,230.0 L387.6,229.2 L389.0,227.2 L390.1,224.4 L391.2,224.5 L392.5,228.2 L393.5,228.7 L394.5,232.4 L395.5,230.6 L396.5,234.2 L397.5,235.7 L399.1,241.6 L400.5,243.6 L401.8,246.2 L403.1,249.0 L404.3,252.5 L405.6,255.2 L406.8,255.5 L408.1,258.2 L409.3,258.7 L410.6,260.2 L411.8,260.7 L413.1,261.6 L518.0,261.6 L518.0,261.6 Z" fill="#C0DEA8"/>
<path d="M264.0,261.6 L297.1,261.6 L298.2,261.5 L299.3,261.3 L300.5,261.2 L301.6,261.1 L302.7,261.0 L303.8,260.8 L305.0,261.2 L306.1,259.5 L307.2,260.4 L308.3,260.5 L309.5,259.4 L310.6,259.7 L311.7,260.3 L312.9,259.4 L314.0,260.0 L315.2,258.5 L316.3,259.3 L317.4,259.3 L318.6,259.0 L319.7,258.6 L320.8,258.1 L321.9,259.7 L323.1,258.8 L324.2,258.2 L325.3,257.7 L326.4,258.8 L327.6,259.0 L328.7,258.6 L329.8,257.3 L330.8,258.3 L331.8,256.6 L332.8,255.8 L333.8,256.9 L334.8,256.2 L335.9,256.3 L337.1,255.8 L338.2,256.1 L339.3,254.7 L340.5,257.5 L341.6,255.5 L342.7,255.0 L343.9,256.6 L345.0,255.7 L346.1,254.9 L347.2,256.6 L348.3,254.4 L349.4,256.3 L350.6,255.7 L351.7,255.1 L352.8,255.3 L353.9,254.9 L355.0,255.2 L356.0,255.0 L357.0,251.9 L358.0,252.9 L359.0,252.4 L360.0,251.7 L361.0,251.0 L362.1,249.5 L363.1,250.6 L364.2,249.2 L365.2,249.8 L366.3,247.6 L367.3,247.1 L368.4,246.7 L369.4,243.9 L370.5,244.1 L371.5,243.1 L372.6,241.6 L373.6,240.8 L374.7,240.4 L375.7,239.1 L376.8,237.1 L377.8,236.9 L378.9,235.9 L379.9,234.8 L381.0,233.2 L382.0,233.0 L383.1,231.7 L384.1,231.3 L385.2,230.8 L386.3,230.0 L387.6,229.2 L389.0,227.2 L390.1,224.4 L391.2,224.5 L392.5,228.2 L393.5,228.7 L394.5,232.4 L395.5,230.6 L396.5,234.2 L397.5,235.7 L399.1,241.6 L400.5,243.6 L401.8,246.2 L403.1,249.0 L404.3,252.5 L405.6,255.2 L406.8,255.5 L408.1,258.2 L409.3,258.7 L410.6,260.2 L411.8,260.7 L413.1,261.6 L518.0,261.6" fill="none" stroke="#64A650" stroke-width="1.6" stroke-linejoin="round"/>
<path d="M264.0,279.8 L264.0,279.8 L302.2,279.8 L303.3,279.5 L304.3,279.2 L305.4,278.9 L306.5,278.0 L307.6,278.2 L308.6,277.6 L309.7,277.8 L310.8,276.7 L311.8,277.7 L312.9,277.3 L314.0,277.6 L315.1,277.7 L316.1,276.8 L317.2,275.8 L318.4,276.8 L319.5,277.1 L320.6,276.2 L321.8,275.3 L322.8,275.8 L323.8,274.6 L324.8,273.4 L325.8,273.3 L326.8,271.6 L327.8,270.7 L328.8,270.5 L329.8,269.8 L330.9,268.0 L331.9,267.1 L333.0,264.1 L334.4,261.7 L335.7,258.4 L336.7,255.9 L337.7,253.6 L338.7,251.6 L339.7,249.1 L340.7,249.2 L341.7,247.3 L342.7,245.8 L343.6,244.6 L344.6,244.0 L345.5,244.1 L346.5,244.4 L347.6,242.7 L348.6,242.8 L349.6,242.6 L350.5,242.5 L351.5,244.1 L352.6,245.8 L353.6,245.8 L354.6,247.2 L355.6,250.5 L356.6,250.6 L357.6,254.3 L358.6,255.3 L359.6,258.4 L360.6,262.5 L361.6,263.9 L362.6,265.9 L363.6,268.3 L364.7,271.0 L365.9,272.2 L367.0,274.6 L368.0,277.5 L369.0,277.4 L370.0,278.1 L371.2,279.3 L372.3,279.6 L373.5,279.6 L375.0,279.8 L518.0,279.8 L518.0,279.8 Z" fill="#fff"/>
<path d="M264.0,279.8 L302.2,279.8 L303.3,279.5 L304.3,279.2 L305.4,278.9 L306.5,278.0 L307.6,278.2 L308.6,277.6 L309.7,277.8 L310.8,276.7 L311.8,277.7 L312.9,277.3 L314.0,277.6 L315.1,277.7 L316.1,276.8 L317.2,275.8 L318.4,276.8 L319.5,277.1 L320.6,276.2 L321.8,275.3 L322.8,275.8 L323.8,274.6 L324.8,273.4 L325.8,273.3 L326.8,271.6 L327.8,270.7 L328.8,270.5 L329.8,269.8 L330.9,268.0 L331.9,267.1 L333.0,264.1 L334.4,261.7 L335.7,258.4 L336.7,255.9 L337.7,253.6 L338.7,251.6 L339.7,249.1 L340.7,249.2 L341.7,247.3 L342.7,245.8 L343.6,244.6 L344.6,244.0 L345.5,244.1 L346.5,244.4 L347.6,242.7 L348.6,242.8 L349.6,242.6 L350.5,242.5 L351.5,244.1 L352.6,245.8 L353.6,245.8 L354.6,247.2 L355.6,250.5 L356.6,250.6 L357.6,254.3 L358.6,255.3 L359.6,258.4 L360.6,262.5 L361.6,263.9 L362.6,265.9 L363.6,268.3 L364.7,271.0 L365.9,272.2 L367.0,274.6 L368.0,277.5 L369.0,277.4 L370.0,278.1 L371.2,279.3 L372.3,279.6 L373.5,279.6 L375.0,279.8 L518.0,279.8" fill="none" stroke="#64B045" stroke-width="2.8" stroke-linejoin="round"/></g></svg>
<text x="246.5" y="82.2" textLength="19.8" lengthAdjust="spacingAndGlyphs" text-anchor="end" class="lab" fill="#E0922E" stroke="#E0922E">ETP1</text>
<text x="246.5" y="121.1" textLength="20.0" lengthAdjust="spacingAndGlyphs" text-anchor="end" class="lab" fill="#1A92C4" stroke="#1A92C4">ETP5</text>
<text x="246.5" y="159.4" textLength="20.0" lengthAdjust="spacingAndGlyphs" text-anchor="end" class="lab" fill="#C81A2C" stroke="#C81A2C">ETP8</text>
<text x="246.5" y="198.1" textLength="24.5" lengthAdjust="spacingAndGlyphs" text-anchor="end" class="lab" fill="#72256F" stroke="#72256F">ETP12</text>
<text x="246.5" y="236.5" textLength="24.3" lengthAdjust="spacingAndGlyphs" text-anchor="end" class="lab" fill="#40226F" stroke="#40226F">ETP13</text>
<text x="246.5" y="274.8" textLength="24.5" lengthAdjust="spacingAndGlyphs" text-anchor="end" class="lab" fill="#107A48" stroke="#107A48">ETP14</text>
<text x="511.6" y="80.8" textLength="19.8" lengthAdjust="spacingAndGlyphs" text-anchor="end" class="lab" fill="#E0922E" stroke="#E0922E">ETP1</text>
<text x="511.6" y="119.8" textLength="20.0" lengthAdjust="spacingAndGlyphs" text-anchor="end" class="lab" fill="#1A92C4" stroke="#1A92C4">ETP5</text>
<text x="511.6" y="158.5" textLength="20.0" lengthAdjust="spacingAndGlyphs" text-anchor="end" class="lab" fill="#C81A2C" stroke="#C81A2C">ETP8</text>
<text x="511.6" y="197.5" textLength="24.5" lengthAdjust="spacingAndGlyphs" text-anchor="end" class="lab" fill="#72256F" stroke="#72256F">ETP12</text>
<text x="511.6" y="236.9" textLength="24.3" lengthAdjust="spacingAndGlyphs" text-anchor="end" class="lab" fill="#40226F" stroke="#40226F">ETP13</text>
<text x="511.6" y="275.9" textLength="24.5" lengthAdjust="spacingAndGlyphs" text-anchor="end" class="lab" fill="#107A48" stroke="#107A48">ETP14</text>
<text x="6.7" y="63.4" class="vr" textLength="17.2" lengthAdjust="spacingAndGlyphs">Veh</text>
<text x="6.7" y="81.7" class="vr" textLength="18.3" lengthAdjust="spacingAndGlyphs">Rux</text>
<text x="271.4" y="63.1" class="vr" textLength="17.4" lengthAdjust="spacingAndGlyphs">Veh</text>
<text x="271.4" y="81.3" class="vr" textLength="18.4" lengthAdjust="spacingAndGlyphs">Rux</text>
<path d="M0.9,281 L0.9,25.8 L254.0,25.8 L254.0,281" fill="none" stroke="#111" stroke-width="1.7"/>
<path d="M264.5,281 L264.5,24.6 L518.5,24.6 L518.5,281" fill="none" stroke="#111" stroke-width="1.4"/>
<line x1="0.0" y1="282.1" x2="254.0" y2="282.1" stroke="#111" stroke-width="1.2"/>
<line x1="2.3" y1="281.5" x2="2.3" y2="289.3" stroke="#111" stroke-width="1.8"/>
<line x1="26.5" y1="281.5" x2="26.5" y2="289.3" stroke="#111" stroke-width="1.8"/>
<line x1="55.0" y1="281.5" x2="55.0" y2="289.3" stroke="#111" stroke-width="1.8"/>
<line x1="115.8" y1="281.5" x2="115.8" y2="289.3" stroke="#111" stroke-width="1.8"/>
<line x1="174.2" y1="281.5" x2="174.2" y2="289.3" stroke="#111" stroke-width="1.8"/>
<line x1="231.2" y1="281.5" x2="231.2" y2="289.3" stroke="#111" stroke-width="1.8"/>
<line x1="5.0" y1="281.5" x2="5.0" y2="285" stroke="#111" stroke-width="1.7"/>
<line x1="9.8" y1="281.5" x2="9.8" y2="285" stroke="#111" stroke-width="1.7"/>
<line x1="18.8" y1="281.5" x2="18.8" y2="285" stroke="#111" stroke-width="1.7"/>
<line x1="21.2" y1="281.5" x2="21.2" y2="285" stroke="#111" stroke-width="1.7"/>
<line x1="23.4" y1="281.5" x2="23.4" y2="285" stroke="#111" stroke-width="1.7"/>
<line x1="25.0" y1="281.5" x2="25.0" y2="285" stroke="#111" stroke-width="1.7"/>
<line x1="24.5" y1="281.5" x2="24.5" y2="285" stroke="#111" stroke-width="1.7"/>
<line x1="28.5" y1="281.5" x2="28.5" y2="285" stroke="#111" stroke-width="1.7"/>
<line x1="37.0" y1="281.5" x2="37.0" y2="285" stroke="#111" stroke-width="1.7"/>
<line x1="39.0" y1="281.5" x2="39.0" y2="285" stroke="#111" stroke-width="1.7"/>
<line x1="42.2" y1="281.5" x2="42.2" y2="285" stroke="#111" stroke-width="1.7"/>
<line x1="44.7" y1="281.5" x2="44.7" y2="285" stroke="#111" stroke-width="1.7"/>
<line x1="47.6" y1="281.5" x2="47.6" y2="285" stroke="#111" stroke-width="1.7"/>
<line x1="50.2" y1="281.5" x2="50.2" y2="285" stroke="#111" stroke-width="1.7"/>
<line x1="52.2" y1="281.5" x2="52.2" y2="285" stroke="#111" stroke-width="1.7"/>
<line x1="73.3" y1="281.5" x2="73.3" y2="285" stroke="#111" stroke-width="1.7"/>
<line x1="84.0" y1="281.5" x2="84.0" y2="285" stroke="#111" stroke-width="1.7"/>
<line x1="91.6" y1="281.5" x2="91.6" y2="285" stroke="#111" stroke-width="1.7"/>
<line x1="102.3" y1="281.5" x2="102.3" y2="285" stroke="#111" stroke-width="1.7"/>
<line x1="106.4" y1="281.5" x2="106.4" y2="285" stroke="#111" stroke-width="1.7"/>
<line x1="109.9" y1="281.5" x2="109.9" y2="285" stroke="#111" stroke-width="1.7"/>
<line x1="113.0" y1="281.5" x2="113.0" y2="285" stroke="#111" stroke-width="1.7"/>
<line x1="133.4" y1="281.5" x2="133.4" y2="285" stroke="#111" stroke-width="1.7"/>
<line x1="143.7" y1="281.5" x2="143.7" y2="285" stroke="#111" stroke-width="1.7"/>
<line x1="151.0" y1="281.5" x2="151.0" y2="285" stroke="#111" stroke-width="1.7"/>
<line x1="161.2" y1="281.5" x2="161.2" y2="285" stroke="#111" stroke-width="1.7"/>
<line x1="165.2" y1="281.5" x2="165.2" y2="285" stroke="#111" stroke-width="1.7"/>
<line x1="168.5" y1="281.5" x2="168.5" y2="285" stroke="#111" stroke-width="1.7"/>
<line x1="171.5" y1="281.5" x2="171.5" y2="285" stroke="#111" stroke-width="1.7"/>
<line x1="191.4" y1="281.5" x2="191.4" y2="285" stroke="#111" stroke-width="1.7"/>
<line x1="201.4" y1="281.5" x2="201.4" y2="285" stroke="#111" stroke-width="1.7"/>
<line x1="208.5" y1="281.5" x2="208.5" y2="285" stroke="#111" stroke-width="1.7"/>
<line x1="218.6" y1="281.5" x2="218.6" y2="285" stroke="#111" stroke-width="1.7"/>
<line x1="222.4" y1="281.5" x2="222.4" y2="285" stroke="#111" stroke-width="1.7"/>
<line x1="225.7" y1="281.5" x2="225.7" y2="285" stroke="#111" stroke-width="1.7"/>
<line x1="228.6" y1="281.5" x2="228.6" y2="285" stroke="#111" stroke-width="1.7"/>
<line x1="248.4" y1="281.5" x2="248.4" y2="285" stroke="#111" stroke-width="1.7"/>
<line x1="14.4" y1="281.5" x2="14.4" y2="287" stroke="#111" stroke-width="1.7"/>
<line x1="97.5" y1="281.5" x2="97.5" y2="287" stroke="#111" stroke-width="1.7"/>
<line x1="156.6" y1="281.5" x2="156.6" y2="287" stroke="#111" stroke-width="1.7"/>
<line x1="214.0" y1="281.5" x2="214.0" y2="287" stroke="#111" stroke-width="1.7"/>
<text x="27.7" y="306.3" class="tk" text-anchor="middle">0</text>
<text x="44.5" y="306.3" class="tk" textLength="12.6" lengthAdjust="spacingAndGlyphs">10</text><text x="57.5" y="300.6" class="sup">2</text>
<text x="106.3" y="306.3" class="tk" textLength="12.6" lengthAdjust="spacingAndGlyphs">10</text><text x="119.3" y="300.6" class="sup">3</text>
<text x="165.3" y="306.3" class="tk" textLength="12.6" lengthAdjust="spacingAndGlyphs">10</text><text x="178.3" y="300.6" class="sup">4</text>
<text x="221.7" y="306.3" class="tk" textLength="12.6" lengthAdjust="spacingAndGlyphs">10</text><text x="234.7" y="300.6" class="sup">5</text>
<text x="1.2" y="324.3" class="ax" textLength="39.8" lengthAdjust="spacingAndGlyphs">pSTAT5</text>
<line x1="53.8" y1="318.1" x2="243.0" y2="318.1" stroke="#000" stroke-width="2.8"/>
<path d="M239.3,312.9 L252.0,318.1 L239.3,323.5 Z" fill="#000"/>
<line x1="264.0" y1="282.1" x2="518.0" y2="282.1" stroke="#111" stroke-width="1.2"/>
<line x1="267.0" y1="281.5" x2="267.0" y2="289.3" stroke="#111" stroke-width="1.8"/>
<line x1="291.5" y1="281.5" x2="291.5" y2="289.3" stroke="#111" stroke-width="1.8"/>
<line x1="318.5" y1="281.5" x2="318.5" y2="289.3" stroke="#111" stroke-width="1.8"/>
<line x1="380.0" y1="281.5" x2="380.0" y2="289.3" stroke="#111" stroke-width="1.8"/>
<line x1="438.8" y1="281.5" x2="438.8" y2="289.3" stroke="#111" stroke-width="1.8"/>
<line x1="496.5" y1="281.5" x2="496.5" y2="289.3" stroke="#111" stroke-width="1.8"/>
<line x1="269.7" y1="281.5" x2="269.7" y2="285" stroke="#111" stroke-width="1.7"/>
<line x1="274.6" y1="281.5" x2="274.6" y2="285" stroke="#111" stroke-width="1.7"/>
<line x1="283.7" y1="281.5" x2="283.7" y2="285" stroke="#111" stroke-width="1.7"/>
<line x1="286.1" y1="281.5" x2="286.1" y2="285" stroke="#111" stroke-width="1.7"/>
<line x1="288.3" y1="281.5" x2="288.3" y2="285" stroke="#111" stroke-width="1.7"/>
<line x1="290.0" y1="281.5" x2="290.0" y2="285" stroke="#111" stroke-width="1.7"/>
<line x1="289.5" y1="281.5" x2="289.5" y2="285" stroke="#111" stroke-width="1.7"/>
<line x1="293.5" y1="281.5" x2="293.5" y2="285" stroke="#111" stroke-width="1.7"/>
<line x1="301.5" y1="281.5" x2="301.5" y2="285" stroke="#111" stroke-width="1.7"/>
<line x1="303.4" y1="281.5" x2="303.4" y2="285" stroke="#111" stroke-width="1.7"/>
<line x1="306.4" y1="281.5" x2="306.4" y2="285" stroke="#111" stroke-width="1.7"/>
<line x1="308.8" y1="281.5" x2="308.8" y2="285" stroke="#111" stroke-width="1.7"/>
<line x1="311.5" y1="281.5" x2="311.5" y2="285" stroke="#111" stroke-width="1.7"/>
<line x1="313.9" y1="281.5" x2="313.9" y2="285" stroke="#111" stroke-width="1.7"/>
<line x1="315.8" y1="281.5" x2="315.8" y2="285" stroke="#111" stroke-width="1.7"/>
<line x1="337.0" y1="281.5" x2="337.0" y2="285" stroke="#111" stroke-width="1.7"/>
<line x1="347.8" y1="281.5" x2="347.8" y2="285" stroke="#111" stroke-width="1.7"/>
<line x1="355.5" y1="281.5" x2="355.5" y2="285" stroke="#111" stroke-width="1.7"/>
<line x1="366.4" y1="281.5" x2="366.4" y2="285" stroke="#111" stroke-width="1.7"/>
<line x1="370.5" y1="281.5" x2="370.5" y2="285" stroke="#111" stroke-width="1.7"/>
<line x1="374.0" y1="281.5" x2="374.0" y2="285" stroke="#111" stroke-width="1.7"/>
<line x1="377.2" y1="281.5" x2="377.2" y2="285" stroke="#111" stroke-width="1.7"/>
<line x1="397.7" y1="281.5" x2="397.7" y2="285" stroke="#111" stroke-width="1.7"/>
<line x1="408.1" y1="281.5" x2="408.1" y2="285" stroke="#111" stroke-width="1.7"/>
<line x1="415.4" y1="281.5" x2="415.4" y2="285" stroke="#111" stroke-width="1.7"/>
<line x1="425.8" y1="281.5" x2="425.8" y2="285" stroke="#111" stroke-width="1.7"/>
<line x1="429.7" y1="281.5" x2="429.7" y2="285" stroke="#111" stroke-width="1.7"/>
<line x1="433.1" y1="281.5" x2="433.1" y2="285" stroke="#111" stroke-width="1.7"/>
<line x1="436.1" y1="281.5" x2="436.1" y2="285" stroke="#111" stroke-width="1.7"/>
<line x1="456.2" y1="281.5" x2="456.2" y2="285" stroke="#111" stroke-width="1.7"/>
<line x1="466.3" y1="281.5" x2="466.3" y2="285" stroke="#111" stroke-width="1.7"/>
<line x1="473.5" y1="281.5" x2="473.5" y2="285" stroke="#111" stroke-width="1.7"/>
<line x1="483.7" y1="281.5" x2="483.7" y2="285" stroke="#111" stroke-width="1.7"/>
<line x1="487.6" y1="281.5" x2="487.6" y2="285" stroke="#111" stroke-width="1.7"/>
<line x1="490.9" y1="281.5" x2="490.9" y2="285" stroke="#111" stroke-width="1.7"/>
<line x1="493.9" y1="281.5" x2="493.9" y2="285" stroke="#111" stroke-width="1.7"/>
<line x1="513.7" y1="281.5" x2="513.7" y2="285" stroke="#111" stroke-width="1.7"/>
<line x1="279.2" y1="281.5" x2="279.2" y2="287" stroke="#111" stroke-width="1.7"/>
<line x1="361.5" y1="281.5" x2="361.5" y2="287" stroke="#111" stroke-width="1.7"/>
<line x1="421.1" y1="281.5" x2="421.1" y2="287" stroke="#111" stroke-width="1.7"/>
<line x1="479.1" y1="281.5" x2="479.1" y2="287" stroke="#111" stroke-width="1.7"/>
<text x="292.6" y="306.3" class="tk" text-anchor="middle">0</text>
<text x="309.4" y="306.3" class="tk" textLength="12.6" lengthAdjust="spacingAndGlyphs">10</text><text x="322.4" y="300.6" class="sup">2</text>
<text x="371.1" y="306.3" class="tk" textLength="12.6" lengthAdjust="spacingAndGlyphs">10</text><text x="384.1" y="300.6" class="sup">3</text>
<text x="430.1" y="306.3" class="tk" textLength="12.6" lengthAdjust="spacingAndGlyphs">10</text><text x="443.1" y="300.6" class="sup">4</text>
<text x="487.8" y="306.3" class="tk" textLength="12.6" lengthAdjust="spacingAndGlyphs">10</text><text x="500.8" y="300.6" class="sup">5</text>
<text x="265.2" y="324.3" class="ax" textLength="39.8" lengthAdjust="spacingAndGlyphs">pSTAT5</text>
<line x1="320.5" y1="318.1" x2="507.5" y2="318.1" stroke="#000" stroke-width="2.8"/>
<path d="M503.8,312.9 L516.5,318.1 L503.8,323.5 Z" fill="#000"/>
<text x="0.8" y="17.7" class="big" textLength="16" lengthAdjust="spacingAndGlyphs">A</text>
<text x="263.6" y="17.7" class="big" textLength="15.4" lengthAdjust="spacingAndGlyphs">B</text>
<text x="96.9" y="17.4" class="ttl" textLength="78.6" lengthAdjust="spacingAndGlyphs">Basal pSTAT5</text>
<text x="327.7" y="17.6" class="ttl" textLength="127.2" lengthAdjust="spacingAndGlyphs">IL7-stimulated pSTAT5</text>
</svg>
</body></html>
